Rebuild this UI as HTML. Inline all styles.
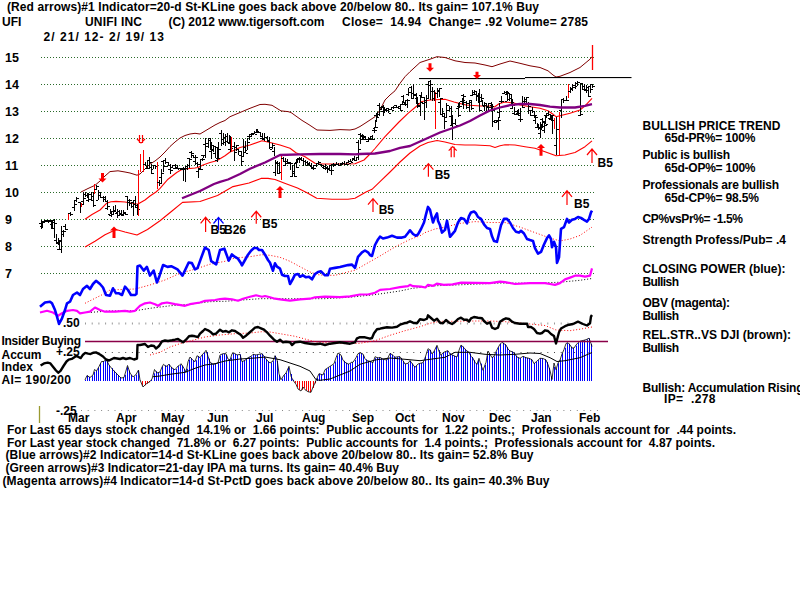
<!DOCTYPE html>
<html><head><meta charset="utf-8"><style>
html,body{margin:0;padding:0;background:#fff;width:800px;height:600px;overflow:hidden}
svg{position:absolute;left:0;top:0;display:block}
text{font-family:"Liberation Sans",sans-serif;font-weight:bold;white-space:pre}
</style></head><body>
<svg width="800" height="600" viewBox="0 0 800 600">
<line x1="41" y1="57.5" x2="594" y2="57.5" stroke="#2a6a2a" stroke-width="1" stroke-dasharray="1 2"/>
<line x1="41" y1="84.5" x2="594" y2="84.5" stroke="#2a6a2a" stroke-width="1" stroke-dasharray="1 2"/>
<line x1="41" y1="111.5" x2="594" y2="111.5" stroke="#2a6a2a" stroke-width="1" stroke-dasharray="1 2"/>
<line x1="41" y1="138.5" x2="594" y2="138.5" stroke="#2a6a2a" stroke-width="1" stroke-dasharray="1 2"/>
<line x1="41" y1="165.5" x2="594" y2="165.5" stroke="#2a6a2a" stroke-width="1" stroke-dasharray="1 2"/>
<line x1="41" y1="192.5" x2="594" y2="192.5" stroke="#2a6a2a" stroke-width="1" stroke-dasharray="1 2"/>
<line x1="41" y1="219.5" x2="594" y2="219.5" stroke="#2a6a2a" stroke-width="1" stroke-dasharray="1 2"/>
<line x1="41" y1="246.5" x2="594" y2="246.5" stroke="#2a6a2a" stroke-width="1" stroke-dasharray="1 2"/>
<line x1="41" y1="273.5" x2="594" y2="273.5" stroke="#2a6a2a" stroke-width="1" stroke-dasharray="1 2"/>
<line x1="85" y1="323.5" x2="594" y2="323.5" stroke="#999" stroke-width="2" stroke-dasharray="1 5.7"/>
<line x1="85" y1="352.5" x2="594" y2="352.5" stroke="#444" stroke-width="1" stroke-dasharray="1 5.7"/>
<line x1="81" y1="410.5" x2="598" y2="410.5" stroke="#888" stroke-width="1" stroke-dasharray="1 5.7"/>
<rect x="85" y="380.0" width="1" height="1.0" fill="#0000ff"/>
<rect x="87" y="375.6" width="1" height="5.4" fill="#0000ff"/>
<rect x="89" y="377.1" width="1" height="3.9" fill="#0000ff"/>
<rect x="92" y="376.1" width="1" height="4.9" fill="#0000ff"/>
<rect x="94" y="371.9" width="1" height="9.1" fill="#0000ff"/>
<rect x="96" y="370.7" width="1" height="10.3" fill="#0000ff"/>
<rect x="98" y="367.8" width="1" height="13.2" fill="#0000ff"/>
<rect x="100" y="363.6" width="1" height="17.4" fill="#0000ff"/>
<rect x="103" y="361.5" width="1" height="19.5" fill="#0000ff"/>
<rect x="105" y="360.4" width="1" height="20.6" fill="#0000ff"/>
<rect x="107" y="361.2" width="1" height="19.8" fill="#0000ff"/>
<rect x="109" y="365.4" width="1" height="15.6" fill="#0000ff"/>
<rect x="112" y="368.1" width="1" height="12.9" fill="#0000ff"/>
<rect x="114" y="370.7" width="1" height="10.3" fill="#0000ff"/>
<rect x="116" y="372.9" width="1" height="8.1" fill="#0000ff"/>
<rect x="118" y="375.1" width="1" height="5.9" fill="#0000ff"/>
<rect x="120" y="377.4" width="1" height="3.6" fill="#0000ff"/>
<rect x="123" y="377.7" width="1" height="3.3" fill="#0000ff"/>
<rect x="125" y="374.8" width="1" height="6.2" fill="#0000ff"/>
<rect x="127" y="367.2" width="1" height="13.8" fill="#0000ff"/>
<rect x="129" y="370.6" width="1" height="10.4" fill="#0000ff"/>
<rect x="131" y="374.9" width="1" height="6.1" fill="#0000ff"/>
<rect x="134" y="376.5" width="1" height="4.5" fill="#0000ff"/>
<rect x="136" y="374.6" width="1" height="6.4" fill="#0000ff"/>
<rect x="138" y="370.8" width="1" height="10.2" fill="#0000ff"/>
<rect x="140" y="380.6" width="1" height="0.4" fill="#0000ff"/>
<rect x="142" y="381.0" width="1" height="4.7" fill="#ff0000"/>
<rect x="145" y="381.0" width="1" height="4.3" fill="#ff0000"/>
<rect x="147" y="381.0" width="1" height="2.5" fill="#ff0000"/>
<rect x="149" y="381.0" width="1" height="1.1" fill="#ff0000"/>
<rect x="151" y="379.9" width="1" height="1.1" fill="#0000ff"/>
<rect x="154" y="373.3" width="1" height="7.7" fill="#0000ff"/>
<rect x="156" y="371.2" width="1" height="9.8" fill="#0000ff"/>
<rect x="158" y="372.7" width="1" height="8.3" fill="#0000ff"/>
<rect x="160" y="371.7" width="1" height="9.3" fill="#0000ff"/>
<rect x="162" y="366.4" width="1" height="14.6" fill="#0000ff"/>
<rect x="165" y="365.3" width="1" height="15.7" fill="#0000ff"/>
<rect x="167" y="366.0" width="1" height="15.0" fill="#0000ff"/>
<rect x="169" y="364.3" width="1" height="16.7" fill="#0000ff"/>
<rect x="171" y="367.0" width="1" height="14.0" fill="#0000ff"/>
<rect x="173" y="368.8" width="1" height="12.2" fill="#0000ff"/>
<rect x="176" y="369.0" width="1" height="12.0" fill="#0000ff"/>
<rect x="178" y="366.2" width="1" height="14.8" fill="#0000ff"/>
<rect x="180" y="364.7" width="1" height="16.3" fill="#0000ff"/>
<rect x="182" y="365.6" width="1" height="15.4" fill="#0000ff"/>
<rect x="184" y="369.2" width="1" height="11.8" fill="#0000ff"/>
<rect x="187" y="368.8" width="1" height="12.2" fill="#0000ff"/>
<rect x="189" y="359.7" width="1" height="21.3" fill="#0000ff"/>
<rect x="191" y="358.2" width="1" height="22.8" fill="#0000ff"/>
<rect x="193" y="360.5" width="1" height="20.5" fill="#0000ff"/>
<rect x="196" y="360.2" width="1" height="20.8" fill="#0000ff"/>
<rect x="198" y="356.2" width="1" height="24.8" fill="#0000ff"/>
<rect x="200" y="357.6" width="1" height="23.4" fill="#0000ff"/>
<rect x="202" y="354.9" width="1" height="26.1" fill="#0000ff"/>
<rect x="204" y="352.4" width="1" height="28.6" fill="#0000ff"/>
<rect x="207" y="352.0" width="1" height="29.0" fill="#0000ff"/>
<rect x="209" y="358.6" width="1" height="22.4" fill="#0000ff"/>
<rect x="211" y="362.9" width="1" height="18.1" fill="#0000ff"/>
<rect x="213" y="364.3" width="1" height="16.7" fill="#0000ff"/>
<rect x="215" y="363.8" width="1" height="17.2" fill="#0000ff"/>
<rect x="218" y="363.1" width="1" height="17.9" fill="#0000ff"/>
<rect x="220" y="355.8" width="1" height="25.2" fill="#0000ff"/>
<rect x="222" y="354.1" width="1" height="26.9" fill="#0000ff"/>
<rect x="224" y="353.7" width="1" height="27.3" fill="#0000ff"/>
<rect x="226" y="354.9" width="1" height="26.1" fill="#0000ff"/>
<rect x="229" y="359.4" width="1" height="21.6" fill="#0000ff"/>
<rect x="231" y="357.5" width="1" height="23.5" fill="#0000ff"/>
<rect x="233" y="353.3" width="1" height="27.7" fill="#0000ff"/>
<rect x="235" y="353.9" width="1" height="27.1" fill="#0000ff"/>
<rect x="237" y="354.9" width="1" height="26.1" fill="#0000ff"/>
<rect x="240" y="354.4" width="1" height="26.6" fill="#0000ff"/>
<rect x="242" y="361.4" width="1" height="19.6" fill="#0000ff"/>
<rect x="244" y="360.7" width="1" height="20.3" fill="#0000ff"/>
<rect x="246" y="359.1" width="1" height="21.9" fill="#0000ff"/>
<rect x="249" y="357.4" width="1" height="23.6" fill="#0000ff"/>
<rect x="251" y="356.4" width="1" height="24.6" fill="#0000ff"/>
<rect x="253" y="354.3" width="1" height="26.7" fill="#0000ff"/>
<rect x="255" y="354.8" width="1" height="26.2" fill="#0000ff"/>
<rect x="257" y="354.7" width="1" height="26.3" fill="#0000ff"/>
<rect x="260" y="354.2" width="1" height="26.8" fill="#0000ff"/>
<rect x="262" y="353.7" width="1" height="27.3" fill="#0000ff"/>
<rect x="264" y="356.3" width="1" height="24.7" fill="#0000ff"/>
<rect x="266" y="359.3" width="1" height="21.7" fill="#0000ff"/>
<rect x="268" y="361.6" width="1" height="19.4" fill="#0000ff"/>
<rect x="271" y="362.6" width="1" height="18.4" fill="#0000ff"/>
<rect x="273" y="361.1" width="1" height="19.9" fill="#0000ff"/>
<rect x="275" y="355.8" width="1" height="25.2" fill="#0000ff"/>
<rect x="277" y="361.0" width="1" height="20.0" fill="#0000ff"/>
<rect x="279" y="375.1" width="1" height="5.9" fill="#0000ff"/>
<rect x="282" y="378.6" width="1" height="2.4" fill="#0000ff"/>
<rect x="284" y="375.2" width="1" height="5.8" fill="#0000ff"/>
<rect x="286" y="372.8" width="1" height="8.2" fill="#0000ff"/>
<rect x="288" y="367.8" width="1" height="13.2" fill="#0000ff"/>
<rect x="291" y="374.0" width="1" height="7.0" fill="#0000ff"/>
<rect x="293" y="379.8" width="1" height="1.2" fill="#0000ff"/>
<rect x="295" y="381.0" width="1" height="1.9" fill="#ff0000"/>
<rect x="297" y="381.0" width="1" height="6.0" fill="#ff0000"/>
<rect x="299" y="381.0" width="1" height="8.9" fill="#ff0000"/>
<rect x="302" y="381.0" width="1" height="8.8" fill="#ff0000"/>
<rect x="304" y="381.0" width="1" height="7.1" fill="#ff0000"/>
<rect x="306" y="381.0" width="1" height="9.4" fill="#ff0000"/>
<rect x="308" y="381.0" width="1" height="10.7" fill="#ff0000"/>
<rect x="310" y="381.0" width="1" height="11.2" fill="#ff0000"/>
<rect x="313" y="381.0" width="1" height="7.0" fill="#ff0000"/>
<rect x="315" y="381.0" width="1" height="2.3" fill="#ff0000"/>
<rect x="317" y="378.0" width="1" height="3.0" fill="#0000ff"/>
<rect x="319" y="373.8" width="1" height="7.2" fill="#0000ff"/>
<rect x="321" y="374.5" width="1" height="6.5" fill="#0000ff"/>
<rect x="324" y="373.2" width="1" height="7.8" fill="#0000ff"/>
<rect x="326" y="369.1" width="1" height="11.9" fill="#0000ff"/>
<rect x="328" y="367.6" width="1" height="13.4" fill="#0000ff"/>
<rect x="330" y="366.2" width="1" height="14.8" fill="#0000ff"/>
<rect x="333" y="364.7" width="1" height="16.3" fill="#0000ff"/>
<rect x="335" y="361.5" width="1" height="19.5" fill="#0000ff"/>
<rect x="337" y="355.5" width="1" height="25.5" fill="#0000ff"/>
<rect x="339" y="353.8" width="1" height="27.2" fill="#0000ff"/>
<rect x="341" y="356.0" width="1" height="25.0" fill="#0000ff"/>
<rect x="344" y="360.8" width="1" height="20.2" fill="#0000ff"/>
<rect x="346" y="362.8" width="1" height="18.2" fill="#0000ff"/>
<rect x="348" y="363.9" width="1" height="17.1" fill="#0000ff"/>
<rect x="350" y="363.1" width="1" height="17.9" fill="#0000ff"/>
<rect x="352" y="362.3" width="1" height="18.7" fill="#0000ff"/>
<rect x="355" y="359.8" width="1" height="21.2" fill="#0000ff"/>
<rect x="357" y="356.0" width="1" height="25.0" fill="#0000ff"/>
<rect x="359" y="353.2" width="1" height="27.8" fill="#0000ff"/>
<rect x="361" y="353.2" width="1" height="27.8" fill="#0000ff"/>
<rect x="363" y="355.1" width="1" height="25.9" fill="#0000ff"/>
<rect x="366" y="359.4" width="1" height="21.6" fill="#0000ff"/>
<rect x="368" y="360.9" width="1" height="20.1" fill="#0000ff"/>
<rect x="370" y="361.3" width="1" height="19.7" fill="#0000ff"/>
<rect x="372" y="362.4" width="1" height="18.6" fill="#0000ff"/>
<rect x="375" y="358.2" width="1" height="22.8" fill="#0000ff"/>
<rect x="377" y="357.4" width="1" height="23.6" fill="#0000ff"/>
<rect x="379" y="357.7" width="1" height="23.3" fill="#0000ff"/>
<rect x="381" y="358.1" width="1" height="22.9" fill="#0000ff"/>
<rect x="383" y="359.4" width="1" height="21.6" fill="#0000ff"/>
<rect x="386" y="359.7" width="1" height="21.3" fill="#0000ff"/>
<rect x="388" y="358.3" width="1" height="22.7" fill="#0000ff"/>
<rect x="390" y="353.3" width="1" height="27.7" fill="#0000ff"/>
<rect x="392" y="354.8" width="1" height="26.2" fill="#0000ff"/>
<rect x="394" y="356.7" width="1" height="24.3" fill="#0000ff"/>
<rect x="397" y="357.0" width="1" height="24.0" fill="#0000ff"/>
<rect x="399" y="356.7" width="1" height="24.3" fill="#0000ff"/>
<rect x="401" y="358.1" width="1" height="22.9" fill="#0000ff"/>
<rect x="403" y="361.1" width="1" height="19.9" fill="#0000ff"/>
<rect x="405" y="363.9" width="1" height="17.1" fill="#0000ff"/>
<rect x="408" y="363.4" width="1" height="17.6" fill="#0000ff"/>
<rect x="410" y="360.9" width="1" height="20.1" fill="#0000ff"/>
<rect x="412" y="363.5" width="1" height="17.5" fill="#0000ff"/>
<rect x="414" y="366.4" width="1" height="14.6" fill="#0000ff"/>
<rect x="416" y="365.7" width="1" height="15.3" fill="#0000ff"/>
<rect x="419" y="363.8" width="1" height="17.2" fill="#0000ff"/>
<rect x="421" y="363.1" width="1" height="17.9" fill="#0000ff"/>
<rect x="423" y="362.4" width="1" height="18.6" fill="#0000ff"/>
<rect x="425" y="356.9" width="1" height="24.1" fill="#0000ff"/>
<rect x="428" y="350.1" width="1" height="30.9" fill="#0000ff"/>
<rect x="430" y="349.8" width="1" height="31.2" fill="#0000ff"/>
<rect x="432" y="353.9" width="1" height="27.1" fill="#0000ff"/>
<rect x="434" y="350.9" width="1" height="30.1" fill="#0000ff"/>
<rect x="436" y="346.5" width="1" height="34.5" fill="#0000ff"/>
<rect x="439" y="350.1" width="1" height="30.9" fill="#0000ff"/>
<rect x="441" y="354.9" width="1" height="26.1" fill="#0000ff"/>
<rect x="443" y="352.7" width="1" height="28.3" fill="#0000ff"/>
<rect x="445" y="351.7" width="1" height="29.3" fill="#0000ff"/>
<rect x="447" y="350.9" width="1" height="30.1" fill="#0000ff"/>
<rect x="450" y="353.4" width="1" height="27.6" fill="#0000ff"/>
<rect x="452" y="354.8" width="1" height="26.2" fill="#0000ff"/>
<rect x="454" y="355.8" width="1" height="25.2" fill="#0000ff"/>
<rect x="456" y="356.7" width="1" height="24.3" fill="#0000ff"/>
<rect x="458" y="352.0" width="1" height="29.0" fill="#0000ff"/>
<rect x="461" y="345.8" width="1" height="35.2" fill="#0000ff"/>
<rect x="463" y="346.7" width="1" height="34.3" fill="#0000ff"/>
<rect x="465" y="349.2" width="1" height="31.8" fill="#0000ff"/>
<rect x="467" y="351.2" width="1" height="29.8" fill="#0000ff"/>
<rect x="470" y="353.4" width="1" height="27.6" fill="#0000ff"/>
<rect x="472" y="357.0" width="1" height="24.0" fill="#0000ff"/>
<rect x="474" y="360.2" width="1" height="20.8" fill="#0000ff"/>
<rect x="476" y="363.5" width="1" height="17.5" fill="#0000ff"/>
<rect x="478" y="360.2" width="1" height="20.8" fill="#0000ff"/>
<rect x="481" y="363.6" width="1" height="17.4" fill="#0000ff"/>
<rect x="483" y="369.8" width="1" height="11.2" fill="#0000ff"/>
<rect x="485" y="364.9" width="1" height="16.1" fill="#0000ff"/>
<rect x="487" y="355.4" width="1" height="25.6" fill="#0000ff"/>
<rect x="489" y="353.4" width="1" height="27.6" fill="#0000ff"/>
<rect x="492" y="357.1" width="1" height="23.9" fill="#0000ff"/>
<rect x="494" y="356.4" width="1" height="24.6" fill="#0000ff"/>
<rect x="496" y="351.6" width="1" height="29.4" fill="#0000ff"/>
<rect x="498" y="347.2" width="1" height="33.8" fill="#0000ff"/>
<rect x="500" y="343.8" width="1" height="37.2" fill="#0000ff"/>
<rect x="503" y="342.8" width="1" height="38.2" fill="#0000ff"/>
<rect x="505" y="344.3" width="1" height="36.7" fill="#0000ff"/>
<rect x="507" y="347.2" width="1" height="33.8" fill="#0000ff"/>
<rect x="509" y="350.3" width="1" height="30.7" fill="#0000ff"/>
<rect x="512" y="351.5" width="1" height="29.5" fill="#0000ff"/>
<rect x="514" y="352.8" width="1" height="28.2" fill="#0000ff"/>
<rect x="516" y="355.6" width="1" height="25.4" fill="#0000ff"/>
<rect x="518" y="357.5" width="1" height="23.5" fill="#0000ff"/>
<rect x="520" y="358.1" width="1" height="22.9" fill="#0000ff"/>
<rect x="523" y="356.6" width="1" height="24.4" fill="#0000ff"/>
<rect x="525" y="357.1" width="1" height="23.9" fill="#0000ff"/>
<rect x="527" y="357.9" width="1" height="23.1" fill="#0000ff"/>
<rect x="529" y="358.4" width="1" height="22.6" fill="#0000ff"/>
<rect x="531" y="359.4" width="1" height="21.6" fill="#0000ff"/>
<rect x="534" y="363.0" width="1" height="18.0" fill="#0000ff"/>
<rect x="536" y="362.0" width="1" height="19.0" fill="#0000ff"/>
<rect x="538" y="360.1" width="1" height="20.9" fill="#0000ff"/>
<rect x="540" y="358.3" width="1" height="22.7" fill="#0000ff"/>
<rect x="542" y="358.5" width="1" height="22.5" fill="#0000ff"/>
<rect x="545" y="359.3" width="1" height="21.7" fill="#0000ff"/>
<rect x="547" y="362.0" width="1" height="19.0" fill="#0000ff"/>
<rect x="549" y="367.8" width="1" height="13.2" fill="#0000ff"/>
<rect x="551" y="376.4" width="1" height="4.6" fill="#0000ff"/>
<rect x="554" y="367.0" width="1" height="14.0" fill="#0000ff"/>
<rect x="556" y="368.8" width="1" height="12.2" fill="#0000ff"/>
<rect x="558" y="363.2" width="1" height="17.8" fill="#0000ff"/>
<rect x="560" y="359.6" width="1" height="21.4" fill="#0000ff"/>
<rect x="562" y="353.2" width="1" height="27.8" fill="#0000ff"/>
<rect x="565" y="347.8" width="1" height="33.2" fill="#0000ff"/>
<rect x="567" y="343.2" width="1" height="37.8" fill="#0000ff"/>
<rect x="569" y="343.8" width="1" height="37.2" fill="#0000ff"/>
<rect x="571" y="346.8" width="1" height="34.2" fill="#0000ff"/>
<rect x="573" y="348.0" width="1" height="33.0" fill="#0000ff"/>
<rect x="576" y="345.6" width="1" height="35.4" fill="#0000ff"/>
<rect x="578" y="342.9" width="1" height="38.1" fill="#0000ff"/>
<rect x="580" y="341.2" width="1" height="39.8" fill="#0000ff"/>
<rect x="582" y="340.7" width="1" height="40.3" fill="#0000ff"/>
<rect x="584" y="340.1" width="1" height="40.9" fill="#0000ff"/>
<rect x="587" y="339.4" width="1" height="41.6" fill="#0000ff"/>
<rect x="589" y="338.3" width="1" height="42.7" fill="#0000ff"/>
<rect x="591" y="343.8" width="1" height="37.2" fill="#0000ff"/>
<polyline points="85.0,380.0 87.0,375.5 90.0,377.5 93.0,375.0 94.5,369.5 96.5,371.0 99.0,366.5 101.5,361.5 104.0,361.5 106.0,359.0 109.0,365.0 113.0,370.0 117.0,374.0 121.0,378.0 124.0,377.5 127.5,365.5 130.0,373.0 133.0,377.0 136.0,374.5 138.5,370.0 140.0,380.0 143.0,387.0 146.0,384.0 150.0,381.5 152.0,379.0 154.5,369.5 157.0,373.0 160.0,372.0 162.0,367.0 163.5,364.3 166.0,366.6 169.0,364.3 172.0,368.0 175.0,369.8 178.0,366.0 179.0,365.7 181.0,363.7 184.0,368.3 186.0,372.3 188.0,361.7 190.0,357.0 193.0,360.3 195.0,361.7 197.0,355.7 200.0,357.7 202.0,355.0 205.0,351.7 206.0,350.3 208.0,356.3 210.0,362.3 213.0,364.3 216.0,363.7 218.0,363.0 220.0,355.0 223.0,353.7 226.0,353.7 228.0,359.0 230.0,360.3 232.0,353.7 234.0,353.0 237.0,355.0 240.0,354.3 242.0,361.7 245.0,360.3 248.0,357.7 251.0,356.3 253.0,354.3 256.0,355.0 259.0,354.3 262.0,353.7 264.0,356.3 267.0,360.3 270.0,363.0 273.0,361.0 275.0,355.7 277.0,359.0 279.0,373.7 281.0,379.7 284.0,375.0 286.0,373.0 289.0,366.3 291.0,376.3 293.0,380.3 296.0,384.3 298.0,389.0 301.0,391.0 303.0,387.0 305.0,389.7 308.0,391.7 311.0,392.3 313.0,387.0 315.0,383.0 316.0,380.3 319.0,373.7 321.0,374.3 323.0,375.0 325.0,369.7 328.0,367.7 331.0,365.7 334.0,363.7 336.0,357.7 338.0,353.0 341.0,355.0 343.0,360.3 346.0,363.0 349.0,364.3 351.0,362.3 353.0,362.3 356.0,357.7 358.0,353.7 360.0,352.7 363.0,354.0 365.0,358.7 367.0,360.7 370.0,361.3 373.0,362.7 375.0,356.7 378.0,358.0 380.0,357.3 383.0,359.3 387.0,360.0 390.0,353.3 393.0,355.3 395.0,357.3 398.0,356.7 400.0,356.7 403.0,360.7 405.0,364.0 408.0,363.3 410.0,360.7 413.0,364.7 415.0,367.3 418.0,364.0 420.0,363.3 423.0,362.7 425.0,358.0 428.0,348.7 430.0,350.0 432.0,354.0 434.0,351.3 437.0,345.3 439.0,351.3 441.0,355.3 443.0,352.7 446.0,351.3 448.0,350.7 450.0,354.0 453.0,355.3 455.0,356.3 457.0,357.0 459.0,350.3 461.0,345.0 464.0,347.7 466.0,350.3 469.0,352.3 471.0,356.3 473.0,358.3 475.0,362.3 477.0,364.3 479.0,358.3 481.0,365.0 483.0,370.3 486.0,362.3 488.0,351.0 490.0,354.3 492.0,357.7 494.0,356.3 496.0,351.7 498.0,347.7 500.0,344.3 502.0,342.3 504.0,343.7 506.0,345.0 508.0,349.0 510.0,351.0 512.0,351.7 514.0,353.0 517.0,357.0 520.0,358.3 523.0,356.3 526.0,357.7 529.0,358.3 532.0,359.7 534.0,363.7 537.0,361.0 540.0,358.3 543.0,358.5 546.0,360.0 548.0,364.5 550.0,370.5 552.0,379.5 554.0,363.0 556.0,369.7 558.0,363.0 560.0,360.0 562.0,354.0 564.0,349.5 566.0,343.5 568.0,342.7 570.0,345.0 572.0,348.0 574.0,348.0 576.0,345.0 578.0,342.7 580.0,341.2 583.0,340.5 586.0,339.7 589.0,338.2 591.0,343.5 592.0,346.5" fill="none" stroke="#000" stroke-width="0.8" stroke-linejoin="round"/>
<polyline points="153.0,376.7 160.0,376.0 170.0,374.3 185.0,372.3 195.0,368.3 205.0,365.0 215.0,363.7 225.0,361.0 240.0,359.0 255.0,358.0 265.0,357.0 280.0,359.7 290.0,363.0 300.0,366.3 310.0,371.0 316.0,379.7 320.0,380.3 330.0,379.0 340.0,375.0 350.0,371.0 360.0,364.3 375.0,360.0 390.0,358.0 405.0,359.3 420.0,360.7 430.0,359.3 445.0,357.3 455.0,352.3 470.0,352.3 485.0,354.3 500.0,355.0 515.0,354.3 530.0,353.0 540.0,353.5 550.0,357.7 557.0,361.5 565.0,360.7 580.0,357.7 592.0,352.5" fill="none" stroke="#000" stroke-width="1" stroke-linejoin="round"/>
<line x1="85" y1="341.5" x2="608" y2="341.5" stroke="#8a0048" stroke-width="1.6"/>
<polyline points="81.0,192.0 88.0,188.5 95.0,185.3 100.0,181.0 105.0,176.0 110.0,171.6 118.0,170.8 125.0,172.0 130.0,173.0 137.0,175.2 140.0,174.0 145.0,169.0 150.0,164.0 155.0,161.0 160.0,157.0 165.0,152.0 170.0,146.5 175.0,142.0 180.0,138.0 185.0,135.5 190.0,134.0 195.0,133.3 200.0,134.0 205.0,131.0 210.0,128.0 215.0,125.0 220.0,122.5 225.0,120.5 230.0,116.7 240.0,112.5 250.0,108.3 260.0,104.5 265.0,104.3 272.0,105.3 281.0,110.9 288.0,111.6 291.0,112.5 302.0,120.4 309.0,124.7 317.0,130.0 330.0,130.4 340.0,129.6 350.0,130.0 355.0,129.0 360.0,126.5 365.0,123.3 370.0,120.0 375.0,116.7 380.0,110.0 385.0,100.0 390.0,95.0 395.0,90.8 400.0,83.3 405.0,76.7 410.0,71.7 420.0,62.5 430.0,59.2 437.0,56.7 445.0,57.5 455.0,60.8 465.0,62.5 475.0,63.0 485.0,65.0 492.0,66.7 500.0,64.0 510.0,61.0 520.0,63.3 530.0,65.8 540.0,67.5 548.0,70.8 553.0,75.0 556.0,77.0 560.0,76.3 570.0,72.5 580.0,67.5 590.0,59.2 592.0,56.7" fill="none" stroke="#800000" stroke-width="1" stroke-linejoin="round"/>
<polyline points="85.0,219.3 92.0,214.5 100.0,210.0 106.5,203.3 111.0,201.7 116.0,201.4 125.0,202.0 135.0,203.7 138.0,204.0 145.0,200.0 150.0,196.0 156.0,192.0 160.0,188.3 168.0,179.2 176.7,172.5 181.7,169.6 187.5,168.7 195.0,168.0 198.0,167.5 203.0,165.0 210.0,162.5 216.7,160.8 225.0,155.8 230.0,152.0 235.0,150.0 240.0,147.5 250.0,145.0 262.0,140.8 270.0,142.5 280.0,145.0 290.0,148.2 296.0,152.7 300.0,154.5 305.0,156.7 310.0,160.0 315.0,163.3 320.0,164.0 330.0,164.0 345.0,164.0 355.0,163.7 364.0,160.0 370.0,154.0 375.0,148.5 385.0,136.7 399.0,122.0 408.0,113.3 415.0,107.5 422.0,101.5 430.0,100.0 445.0,99.2 454.0,102.0 466.0,105.0 481.0,106.0 490.0,106.0 494.5,107.0 499.0,103.7 505.0,102.0 514.0,103.0 520.0,105.0 530.0,106.7 540.0,108.3 548.0,110.8 553.0,114.2 556.0,116.7 560.0,115.8 570.0,113.3 580.0,110.0 585.0,105.8 592.0,98.3" fill="none" stroke="#ff0000" stroke-width="1.1" stroke-linejoin="round"/>
<polyline points="85.0,247.0 95.0,241.3 105.0,234.7 113.0,231.0 116.0,229.5 125.0,232.0 137.0,235.0 147.5,229.5 160.0,220.8 172.0,211.0 182.5,202.4 200.0,201.5 217.5,195.4 233.0,186.6 249.0,183.0 261.0,178.4 268.0,178.4 275.0,179.5 284.0,183.0 297.5,188.0 307.0,192.7 316.7,198.2 332.0,199.3 348.0,199.2 355.0,198.2 366.0,192.0 372.0,189.3 380.0,181.7 390.0,172.0 400.0,162.0 410.0,153.0 420.0,146.0 428.0,142.5 437.0,140.5 445.0,142.0 455.0,144.5 465.0,145.0 475.0,145.0 490.0,145.8 495.0,147.5 500.0,145.8 505.0,144.7 515.0,145.0 525.0,146.7 535.0,148.3 545.0,151.7 556.0,155.8 565.0,155.0 575.0,152.5 585.0,146.7 592.0,140.8" fill="none" stroke="#ff0000" stroke-width="1.1" stroke-linejoin="round"/>
<rect x="41" y="220" width="1" height="9" fill="#000"/>
<rect x="39" y="223" width="2" height="1" fill="#000"/>
<rect x="42" y="221" width="2" height="1" fill="#000"/>
<rect x="42" y="222" width="1" height="6" fill="#000"/>
<rect x="40" y="226" width="2" height="1" fill="#000"/>
<rect x="43" y="222" width="2" height="1" fill="#000"/>
<rect x="44" y="220" width="1" height="3" fill="#000"/>
<rect x="42" y="221" width="2" height="1" fill="#000"/>
<rect x="45" y="221" width="2" height="1" fill="#000"/>
<rect x="46" y="220" width="1" height="2" fill="#000"/>
<rect x="44" y="220" width="2" height="1" fill="#000"/>
<rect x="47" y="221" width="2" height="1" fill="#000"/>
<rect x="48" y="220" width="1" height="3" fill="#000"/>
<rect x="46" y="220" width="2" height="1" fill="#000"/>
<rect x="49" y="221" width="2" height="1" fill="#000"/>
<rect x="51" y="220" width="1" height="9" fill="#000"/>
<rect x="49" y="220" width="2" height="1" fill="#000"/>
<rect x="52" y="220" width="2" height="1" fill="#000"/>
<rect x="52" y="221" width="1" height="8" fill="#000"/>
<rect x="50" y="224" width="2" height="1" fill="#000"/>
<rect x="53" y="228" width="2" height="1" fill="#000"/>
<rect x="54" y="219" width="1" height="19" fill="#000"/>
<rect x="52" y="222" width="2" height="1" fill="#000"/>
<rect x="55" y="223" width="2" height="1" fill="#000"/>
<rect x="56" y="234" width="1" height="10" fill="#000"/>
<rect x="54" y="240" width="2" height="1" fill="#000"/>
<rect x="57" y="243" width="2" height="1" fill="#000"/>
<rect x="58" y="238" width="1" height="7" fill="#000"/>
<rect x="56" y="242" width="2" height="1" fill="#000"/>
<rect x="59" y="241" width="2" height="1" fill="#000"/>
<rect x="59" y="240" width="1" height="10" fill="#000"/>
<rect x="57" y="249" width="2" height="1" fill="#000"/>
<rect x="60" y="240" width="2" height="1" fill="#000"/>
<rect x="61" y="226" width="1" height="27" fill="#000"/>
<rect x="59" y="249" width="2" height="1" fill="#000"/>
<rect x="62" y="234" width="2" height="1" fill="#000"/>
<rect x="63" y="230" width="1" height="7" fill="#000"/>
<rect x="61" y="231" width="2" height="1" fill="#000"/>
<rect x="64" y="231" width="2" height="1" fill="#000"/>
<rect x="65" y="224" width="1" height="6" fill="#000"/>
<rect x="63" y="226" width="2" height="1" fill="#000"/>
<rect x="66" y="229" width="2" height="1" fill="#000"/>
<rect x="68" y="214" width="1" height="6" fill="#ff0000"/>
<rect x="70" y="212" width="1" height="4" fill="#000"/>
<rect x="68" y="213" width="2" height="1" fill="#000"/>
<rect x="71" y="214" width="2" height="1" fill="#000"/>
<rect x="74" y="201" width="1" height="10" fill="#000"/>
<rect x="72" y="207" width="2" height="1" fill="#000"/>
<rect x="75" y="204" width="2" height="1" fill="#000"/>
<rect x="76" y="197" width="1" height="5" fill="#000"/>
<rect x="74" y="200" width="2" height="1" fill="#000"/>
<rect x="77" y="198" width="2" height="1" fill="#000"/>
<rect x="80" y="202" width="1" height="11" fill="#000"/>
<rect x="78" y="202" width="2" height="1" fill="#000"/>
<rect x="81" y="204" width="2" height="1" fill="#000"/>
<rect x="81" y="203" width="1" height="4" fill="#ff0000"/>
<rect x="83" y="192" width="1" height="13" fill="#000"/>
<rect x="81" y="201" width="2" height="1" fill="#000"/>
<rect x="84" y="198" width="2" height="1" fill="#000"/>
<rect x="85" y="192" width="1" height="5" fill="#000"/>
<rect x="83" y="194" width="2" height="1" fill="#000"/>
<rect x="86" y="195" width="2" height="1" fill="#000"/>
<rect x="87" y="193" width="1" height="5" fill="#000"/>
<rect x="85" y="195" width="2" height="1" fill="#000"/>
<rect x="88" y="194" width="2" height="1" fill="#000"/>
<rect x="88" y="193" width="1" height="9" fill="#000"/>
<rect x="86" y="200" width="2" height="1" fill="#000"/>
<rect x="89" y="199" width="2" height="1" fill="#000"/>
<rect x="91" y="192" width="1" height="8" fill="#000"/>
<rect x="89" y="194" width="2" height="1" fill="#000"/>
<rect x="92" y="196" width="2" height="1" fill="#000"/>
<rect x="93" y="192" width="1" height="15" fill="#000"/>
<rect x="91" y="200" width="2" height="1" fill="#000"/>
<rect x="94" y="205" width="2" height="1" fill="#000"/>
<rect x="94" y="184" width="1" height="10" fill="#ff0000"/>
<rect x="96" y="185" width="1" height="5" fill="#000"/>
<rect x="94" y="189" width="2" height="1" fill="#000"/>
<rect x="97" y="186" width="2" height="1" fill="#000"/>
<rect x="98" y="190" width="1" height="10" fill="#000"/>
<rect x="96" y="200" width="2" height="1" fill="#000"/>
<rect x="99" y="192" width="2" height="1" fill="#000"/>
<rect x="100" y="193" width="1" height="5" fill="#000"/>
<rect x="98" y="195" width="2" height="1" fill="#000"/>
<rect x="101" y="197" width="2" height="1" fill="#000"/>
<rect x="103" y="196" width="1" height="6" fill="#000"/>
<rect x="101" y="197" width="2" height="1" fill="#000"/>
<rect x="104" y="199" width="2" height="1" fill="#000"/>
<rect x="105" y="196" width="1" height="6" fill="#000"/>
<rect x="103" y="197" width="2" height="1" fill="#000"/>
<rect x="106" y="201" width="2" height="1" fill="#000"/>
<rect x="107" y="200" width="1" height="10" fill="#000"/>
<rect x="105" y="208" width="2" height="1" fill="#000"/>
<rect x="108" y="206" width="2" height="1" fill="#000"/>
<rect x="110" y="209" width="1" height="5" fill="#000"/>
<rect x="108" y="214" width="2" height="1" fill="#000"/>
<rect x="111" y="211" width="2" height="1" fill="#000"/>
<rect x="111" y="211" width="1" height="6" fill="#000"/>
<rect x="109" y="215" width="2" height="1" fill="#000"/>
<rect x="112" y="214" width="2" height="1" fill="#000"/>
<rect x="113" y="206" width="1" height="9" fill="#000"/>
<rect x="111" y="211" width="2" height="1" fill="#000"/>
<rect x="114" y="210" width="2" height="1" fill="#000"/>
<rect x="115" y="205" width="1" height="7" fill="#000"/>
<rect x="113" y="211" width="2" height="1" fill="#000"/>
<rect x="116" y="212" width="2" height="1" fill="#000"/>
<rect x="117" y="209" width="1" height="9" fill="#000"/>
<rect x="115" y="213" width="2" height="1" fill="#000"/>
<rect x="118" y="215" width="2" height="1" fill="#000"/>
<rect x="119" y="210" width="1" height="5" fill="#000"/>
<rect x="117" y="211" width="2" height="1" fill="#000"/>
<rect x="120" y="214" width="2" height="1" fill="#000"/>
<rect x="121" y="210" width="1" height="4" fill="#000"/>
<rect x="119" y="213" width="2" height="1" fill="#000"/>
<rect x="122" y="214" width="2" height="1" fill="#000"/>
<rect x="123" y="210" width="1" height="6" fill="#000"/>
<rect x="121" y="215" width="2" height="1" fill="#000"/>
<rect x="124" y="212" width="2" height="1" fill="#000"/>
<rect x="125" y="212" width="1" height="3" fill="#000"/>
<rect x="123" y="213" width="2" height="1" fill="#000"/>
<rect x="126" y="214" width="2" height="1" fill="#000"/>
<rect x="127" y="196" width="1" height="14" fill="#000"/>
<rect x="125" y="196" width="2" height="1" fill="#000"/>
<rect x="128" y="202" width="2" height="1" fill="#000"/>
<rect x="129" y="199" width="1" height="7" fill="#000"/>
<rect x="127" y="200" width="2" height="1" fill="#000"/>
<rect x="130" y="200" width="2" height="1" fill="#000"/>
<rect x="131" y="203" width="1" height="5" fill="#000"/>
<rect x="129" y="203" width="2" height="1" fill="#000"/>
<rect x="132" y="206" width="2" height="1" fill="#000"/>
<rect x="133" y="200" width="1" height="16" fill="#000"/>
<rect x="131" y="202" width="2" height="1" fill="#000"/>
<rect x="134" y="204" width="2" height="1" fill="#000"/>
<rect x="135" y="196" width="1" height="12" fill="#000"/>
<rect x="133" y="200" width="2" height="1" fill="#000"/>
<rect x="136" y="207" width="2" height="1" fill="#000"/>
<rect x="137" y="204" width="1" height="11" fill="#000"/>
<rect x="135" y="205" width="2" height="1" fill="#000"/>
<rect x="138" y="209" width="2" height="1" fill="#000"/>
<rect x="138" y="170" width="1" height="46" fill="#ff0000"/>
<rect x="140" y="154" width="1" height="18" fill="#ff0000"/>
<rect x="143" y="150" width="1" height="22" fill="#ff0000"/>
<rect x="145" y="162" width="1" height="4" fill="#000"/>
<rect x="143" y="164" width="2" height="1" fill="#000"/>
<rect x="146" y="166" width="2" height="1" fill="#000"/>
<rect x="147" y="161" width="1" height="8" fill="#000"/>
<rect x="145" y="168" width="2" height="1" fill="#000"/>
<rect x="148" y="168" width="2" height="1" fill="#000"/>
<rect x="149" y="157" width="1" height="11" fill="#000"/>
<rect x="147" y="160" width="2" height="1" fill="#000"/>
<rect x="150" y="162" width="2" height="1" fill="#000"/>
<rect x="151" y="164" width="1" height="10" fill="#000"/>
<rect x="149" y="167" width="2" height="1" fill="#000"/>
<rect x="152" y="173" width="2" height="1" fill="#000"/>
<rect x="153" y="165" width="1" height="4" fill="#000"/>
<rect x="151" y="169" width="2" height="1" fill="#000"/>
<rect x="154" y="165" width="2" height="1" fill="#000"/>
<rect x="155" y="165" width="1" height="4" fill="#000"/>
<rect x="153" y="165" width="2" height="1" fill="#000"/>
<rect x="156" y="166" width="2" height="1" fill="#000"/>
<rect x="157" y="162" width="1" height="27" fill="#ff0000"/>
<rect x="159" y="180" width="1" height="6" fill="#000"/>
<rect x="157" y="182" width="2" height="1" fill="#000"/>
<rect x="160" y="183" width="2" height="1" fill="#000"/>
<rect x="161" y="169" width="1" height="14" fill="#000"/>
<rect x="159" y="177" width="2" height="1" fill="#000"/>
<rect x="162" y="173" width="2" height="1" fill="#000"/>
<rect x="163" y="161" width="1" height="11" fill="#000"/>
<rect x="161" y="161" width="2" height="1" fill="#000"/>
<rect x="164" y="166" width="2" height="1" fill="#000"/>
<rect x="165" y="158" width="1" height="6" fill="#000"/>
<rect x="163" y="160" width="2" height="1" fill="#000"/>
<rect x="166" y="162" width="2" height="1" fill="#000"/>
<rect x="168" y="162" width="1" height="4" fill="#000"/>
<rect x="166" y="166" width="2" height="1" fill="#000"/>
<rect x="169" y="165" width="2" height="1" fill="#000"/>
<rect x="170" y="164" width="1" height="10" fill="#000"/>
<rect x="168" y="169" width="2" height="1" fill="#000"/>
<rect x="171" y="170" width="2" height="1" fill="#000"/>
<rect x="172" y="165" width="1" height="3" fill="#000"/>
<rect x="170" y="167" width="2" height="1" fill="#000"/>
<rect x="173" y="165" width="2" height="1" fill="#000"/>
<rect x="175" y="164" width="1" height="4" fill="#000"/>
<rect x="173" y="168" width="2" height="1" fill="#000"/>
<rect x="176" y="167" width="2" height="1" fill="#000"/>
<rect x="177" y="165" width="1" height="4" fill="#000"/>
<rect x="175" y="168" width="2" height="1" fill="#000"/>
<rect x="178" y="168" width="2" height="1" fill="#000"/>
<rect x="178" y="168" width="1" height="2" fill="#000"/>
<rect x="176" y="168" width="2" height="1" fill="#000"/>
<rect x="179" y="168" width="2" height="1" fill="#000"/>
<rect x="180" y="168" width="1" height="2" fill="#000"/>
<rect x="178" y="168" width="2" height="1" fill="#000"/>
<rect x="181" y="169" width="2" height="1" fill="#000"/>
<rect x="183" y="167" width="1" height="14" fill="#000"/>
<rect x="181" y="168" width="2" height="1" fill="#000"/>
<rect x="184" y="168" width="2" height="1" fill="#000"/>
<rect x="185" y="166" width="1" height="16" fill="#000"/>
<rect x="183" y="169" width="2" height="1" fill="#000"/>
<rect x="186" y="168" width="2" height="1" fill="#000"/>
<rect x="187" y="164" width="1" height="6" fill="#000"/>
<rect x="185" y="166" width="2" height="1" fill="#000"/>
<rect x="188" y="165" width="2" height="1" fill="#000"/>
<rect x="189" y="158" width="1" height="10" fill="#000"/>
<rect x="187" y="158" width="2" height="1" fill="#000"/>
<rect x="190" y="159" width="2" height="1" fill="#000"/>
<rect x="191" y="151" width="1" height="7" fill="#000"/>
<rect x="189" y="152" width="2" height="1" fill="#000"/>
<rect x="192" y="153" width="2" height="1" fill="#000"/>
<rect x="193" y="155" width="1" height="3" fill="#000"/>
<rect x="191" y="155" width="2" height="1" fill="#000"/>
<rect x="194" y="157" width="2" height="1" fill="#000"/>
<rect x="195" y="155" width="1" height="10" fill="#000"/>
<rect x="193" y="161" width="2" height="1" fill="#000"/>
<rect x="196" y="157" width="2" height="1" fill="#000"/>
<rect x="197" y="162" width="1" height="5" fill="#000"/>
<rect x="195" y="163" width="2" height="1" fill="#000"/>
<rect x="198" y="164" width="2" height="1" fill="#000"/>
<rect x="198" y="168" width="1" height="10" fill="#000"/>
<rect x="196" y="171" width="2" height="1" fill="#000"/>
<rect x="199" y="169" width="2" height="1" fill="#000"/>
<rect x="200" y="159" width="1" height="10" fill="#000"/>
<rect x="198" y="168" width="2" height="1" fill="#000"/>
<rect x="201" y="169" width="2" height="1" fill="#000"/>
<rect x="202" y="158" width="1" height="3" fill="#000"/>
<rect x="200" y="159" width="2" height="1" fill="#000"/>
<rect x="203" y="159" width="2" height="1" fill="#000"/>
<rect x="203" y="155" width="1" height="3" fill="#000"/>
<rect x="201" y="155" width="2" height="1" fill="#000"/>
<rect x="204" y="155" width="2" height="1" fill="#000"/>
<rect x="205" y="138" width="1" height="20" fill="#000"/>
<rect x="203" y="144" width="2" height="1" fill="#000"/>
<rect x="206" y="143" width="2" height="1" fill="#000"/>
<rect x="208" y="139" width="1" height="9" fill="#000"/>
<rect x="206" y="146" width="2" height="1" fill="#000"/>
<rect x="209" y="140" width="2" height="1" fill="#000"/>
<rect x="210" y="138" width="1" height="12" fill="#000"/>
<rect x="208" y="138" width="2" height="1" fill="#000"/>
<rect x="211" y="150" width="2" height="1" fill="#000"/>
<rect x="211" y="142" width="1" height="17" fill="#000"/>
<rect x="209" y="151" width="2" height="1" fill="#000"/>
<rect x="212" y="145" width="2" height="1" fill="#000"/>
<rect x="213" y="146" width="1" height="6" fill="#000"/>
<rect x="211" y="149" width="2" height="1" fill="#000"/>
<rect x="214" y="146" width="2" height="1" fill="#000"/>
<rect x="215" y="147" width="1" height="11" fill="#000"/>
<rect x="213" y="153" width="2" height="1" fill="#000"/>
<rect x="216" y="158" width="2" height="1" fill="#000"/>
<rect x="217" y="147" width="1" height="15" fill="#000"/>
<rect x="215" y="160" width="2" height="1" fill="#000"/>
<rect x="218" y="158" width="2" height="1" fill="#000"/>
<rect x="218" y="142" width="1" height="17" fill="#000"/>
<rect x="216" y="147" width="2" height="1" fill="#000"/>
<rect x="219" y="149" width="2" height="1" fill="#000"/>
<rect x="221" y="130" width="1" height="16" fill="#000"/>
<rect x="219" y="133" width="2" height="1" fill="#000"/>
<rect x="222" y="143" width="2" height="1" fill="#000"/>
<rect x="223" y="133" width="1" height="12" fill="#000"/>
<rect x="221" y="139" width="2" height="1" fill="#000"/>
<rect x="224" y="142" width="2" height="1" fill="#000"/>
<rect x="225" y="134" width="1" height="12" fill="#000"/>
<rect x="223" y="137" width="2" height="1" fill="#000"/>
<rect x="226" y="136" width="2" height="1" fill="#000"/>
<rect x="227" y="133" width="1" height="10" fill="#000"/>
<rect x="225" y="141" width="2" height="1" fill="#000"/>
<rect x="228" y="143" width="2" height="1" fill="#000"/>
<rect x="229" y="135" width="1" height="8" fill="#000"/>
<rect x="227" y="142" width="2" height="1" fill="#000"/>
<rect x="230" y="142" width="2" height="1" fill="#000"/>
<rect x="230" y="136" width="1" height="16" fill="#000"/>
<rect x="228" y="149" width="2" height="1" fill="#000"/>
<rect x="231" y="148" width="2" height="1" fill="#000"/>
<rect x="231" y="137" width="1" height="14" fill="#ff0000"/>
<rect x="234" y="142" width="1" height="19" fill="#000"/>
<rect x="232" y="146" width="2" height="1" fill="#000"/>
<rect x="235" y="152" width="2" height="1" fill="#000"/>
<rect x="236" y="145" width="1" height="6" fill="#000"/>
<rect x="234" y="147" width="2" height="1" fill="#000"/>
<rect x="237" y="145" width="2" height="1" fill="#000"/>
<rect x="238" y="149" width="1" height="6" fill="#000"/>
<rect x="236" y="149" width="2" height="1" fill="#000"/>
<rect x="239" y="151" width="2" height="1" fill="#000"/>
<rect x="241" y="151" width="1" height="15" fill="#000"/>
<rect x="239" y="155" width="2" height="1" fill="#000"/>
<rect x="242" y="161" width="2" height="1" fill="#000"/>
<rect x="243" y="139" width="1" height="18" fill="#000"/>
<rect x="241" y="156" width="2" height="1" fill="#000"/>
<rect x="244" y="147" width="2" height="1" fill="#000"/>
<rect x="245" y="141" width="1" height="12" fill="#000"/>
<rect x="243" y="152" width="2" height="1" fill="#000"/>
<rect x="246" y="153" width="2" height="1" fill="#000"/>
<rect x="247" y="138" width="1" height="12" fill="#000"/>
<rect x="245" y="150" width="2" height="1" fill="#000"/>
<rect x="248" y="142" width="2" height="1" fill="#000"/>
<rect x="249" y="135" width="1" height="5" fill="#000"/>
<rect x="247" y="136" width="2" height="1" fill="#000"/>
<rect x="250" y="136" width="2" height="1" fill="#000"/>
<rect x="251" y="133" width="1" height="4" fill="#000"/>
<rect x="249" y="134" width="2" height="1" fill="#000"/>
<rect x="252" y="134" width="2" height="1" fill="#000"/>
<rect x="254" y="131" width="1" height="3" fill="#000"/>
<rect x="252" y="133" width="2" height="1" fill="#000"/>
<rect x="255" y="134" width="2" height="1" fill="#000"/>
<rect x="256" y="129" width="1" height="3" fill="#000"/>
<rect x="254" y="132" width="2" height="1" fill="#000"/>
<rect x="257" y="131" width="2" height="1" fill="#000"/>
<rect x="257" y="129" width="1" height="4" fill="#000"/>
<rect x="255" y="132" width="2" height="1" fill="#000"/>
<rect x="258" y="132" width="2" height="1" fill="#000"/>
<rect x="260" y="132" width="1" height="5" fill="#000"/>
<rect x="258" y="132" width="2" height="1" fill="#000"/>
<rect x="261" y="136" width="2" height="1" fill="#000"/>
<rect x="262" y="133" width="1" height="6" fill="#000"/>
<rect x="260" y="138" width="2" height="1" fill="#000"/>
<rect x="263" y="138" width="2" height="1" fill="#000"/>
<rect x="264" y="133" width="1" height="8" fill="#000"/>
<rect x="262" y="139" width="2" height="1" fill="#000"/>
<rect x="265" y="137" width="2" height="1" fill="#000"/>
<rect x="267" y="136" width="1" height="5" fill="#000"/>
<rect x="265" y="137" width="2" height="1" fill="#000"/>
<rect x="268" y="140" width="2" height="1" fill="#000"/>
<rect x="269" y="137" width="1" height="12" fill="#000"/>
<rect x="267" y="141" width="2" height="1" fill="#000"/>
<rect x="270" y="147" width="2" height="1" fill="#000"/>
<rect x="272" y="143" width="1" height="6" fill="#000"/>
<rect x="270" y="149" width="2" height="1" fill="#000"/>
<rect x="273" y="145" width="2" height="1" fill="#000"/>
<rect x="274" y="147" width="1" height="9" fill="#000"/>
<rect x="272" y="151" width="2" height="1" fill="#000"/>
<rect x="275" y="156" width="2" height="1" fill="#000"/>
<rect x="275" y="160" width="1" height="16" fill="#000"/>
<rect x="273" y="172" width="2" height="1" fill="#000"/>
<rect x="276" y="163" width="2" height="1" fill="#000"/>
<rect x="277" y="161" width="1" height="13" fill="#000"/>
<rect x="275" y="162" width="2" height="1" fill="#000"/>
<rect x="278" y="163" width="2" height="1" fill="#000"/>
<rect x="279" y="162" width="1" height="12" fill="#000"/>
<rect x="277" y="173" width="2" height="1" fill="#000"/>
<rect x="280" y="172" width="2" height="1" fill="#000"/>
<rect x="281" y="156" width="1" height="24" fill="#ff0000"/>
<rect x="283" y="157" width="1" height="5" fill="#000"/>
<rect x="281" y="158" width="2" height="1" fill="#000"/>
<rect x="284" y="161" width="2" height="1" fill="#000"/>
<rect x="285" y="158" width="1" height="8" fill="#000"/>
<rect x="283" y="165" width="2" height="1" fill="#000"/>
<rect x="286" y="163" width="2" height="1" fill="#000"/>
<rect x="287" y="159" width="1" height="5" fill="#000"/>
<rect x="285" y="161" width="2" height="1" fill="#000"/>
<rect x="288" y="162" width="2" height="1" fill="#000"/>
<rect x="290" y="162" width="1" height="8" fill="#000"/>
<rect x="288" y="163" width="2" height="1" fill="#000"/>
<rect x="291" y="163" width="2" height="1" fill="#000"/>
<rect x="292" y="165" width="1" height="12" fill="#000"/>
<rect x="290" y="176" width="2" height="1" fill="#000"/>
<rect x="293" y="173" width="2" height="1" fill="#000"/>
<rect x="294" y="164" width="1" height="13" fill="#000"/>
<rect x="292" y="171" width="2" height="1" fill="#000"/>
<rect x="295" y="176" width="2" height="1" fill="#000"/>
<rect x="296" y="159" width="1" height="9" fill="#000"/>
<rect x="294" y="163" width="2" height="1" fill="#000"/>
<rect x="297" y="167" width="2" height="1" fill="#000"/>
<rect x="297" y="158" width="1" height="5" fill="#000"/>
<rect x="295" y="162" width="2" height="1" fill="#000"/>
<rect x="298" y="159" width="2" height="1" fill="#000"/>
<rect x="299" y="157" width="1" height="6" fill="#000"/>
<rect x="297" y="158" width="2" height="1" fill="#000"/>
<rect x="300" y="159" width="2" height="1" fill="#000"/>
<rect x="301" y="157" width="1" height="4" fill="#000"/>
<rect x="299" y="158" width="2" height="1" fill="#000"/>
<rect x="302" y="160" width="2" height="1" fill="#000"/>
<rect x="303" y="158" width="1" height="8" fill="#000"/>
<rect x="301" y="160" width="2" height="1" fill="#000"/>
<rect x="304" y="161" width="2" height="1" fill="#000"/>
<rect x="305" y="160" width="1" height="5" fill="#000"/>
<rect x="303" y="161" width="2" height="1" fill="#000"/>
<rect x="306" y="165" width="2" height="1" fill="#000"/>
<rect x="307" y="161" width="1" height="4" fill="#000"/>
<rect x="305" y="162" width="2" height="1" fill="#000"/>
<rect x="308" y="163" width="2" height="1" fill="#000"/>
<rect x="309" y="162" width="1" height="4" fill="#000"/>
<rect x="307" y="164" width="2" height="1" fill="#000"/>
<rect x="310" y="166" width="2" height="1" fill="#000"/>
<rect x="311" y="163" width="1" height="6" fill="#000"/>
<rect x="309" y="165" width="2" height="1" fill="#000"/>
<rect x="312" y="168" width="2" height="1" fill="#000"/>
<rect x="313" y="165" width="1" height="5" fill="#000"/>
<rect x="311" y="167" width="2" height="1" fill="#000"/>
<rect x="314" y="168" width="2" height="1" fill="#000"/>
<rect x="316" y="163" width="1" height="4" fill="#000"/>
<rect x="314" y="165" width="2" height="1" fill="#000"/>
<rect x="317" y="163" width="2" height="1" fill="#000"/>
<rect x="318" y="161" width="1" height="4" fill="#000"/>
<rect x="316" y="163" width="2" height="1" fill="#000"/>
<rect x="319" y="162" width="2" height="1" fill="#000"/>
<rect x="321" y="164" width="1" height="3" fill="#000"/>
<rect x="319" y="164" width="2" height="1" fill="#000"/>
<rect x="322" y="167" width="2" height="1" fill="#000"/>
<rect x="323" y="165" width="1" height="3" fill="#000"/>
<rect x="321" y="165" width="2" height="1" fill="#000"/>
<rect x="324" y="166" width="2" height="1" fill="#000"/>
<rect x="325" y="164" width="1" height="6" fill="#000"/>
<rect x="323" y="168" width="2" height="1" fill="#000"/>
<rect x="326" y="167" width="2" height="1" fill="#000"/>
<rect x="327" y="166" width="1" height="7" fill="#000"/>
<rect x="325" y="168" width="2" height="1" fill="#000"/>
<rect x="328" y="169" width="2" height="1" fill="#000"/>
<rect x="329" y="165" width="1" height="6" fill="#000"/>
<rect x="327" y="168" width="2" height="1" fill="#000"/>
<rect x="330" y="170" width="2" height="1" fill="#000"/>
<rect x="331" y="164" width="1" height="11" fill="#000"/>
<rect x="329" y="165" width="2" height="1" fill="#000"/>
<rect x="332" y="170" width="2" height="1" fill="#000"/>
<rect x="333" y="163" width="1" height="4" fill="#000"/>
<rect x="331" y="164" width="2" height="1" fill="#000"/>
<rect x="334" y="164" width="2" height="1" fill="#000"/>
<rect x="336" y="162" width="1" height="3" fill="#000"/>
<rect x="334" y="165" width="2" height="1" fill="#000"/>
<rect x="337" y="164" width="2" height="1" fill="#000"/>
<rect x="338" y="163" width="1" height="2" fill="#000"/>
<rect x="336" y="164" width="2" height="1" fill="#000"/>
<rect x="339" y="165" width="2" height="1" fill="#000"/>
<rect x="340" y="163" width="1" height="2" fill="#000"/>
<rect x="338" y="165" width="2" height="1" fill="#000"/>
<rect x="341" y="164" width="2" height="1" fill="#000"/>
<rect x="342" y="162" width="1" height="2" fill="#000"/>
<rect x="340" y="163" width="2" height="1" fill="#000"/>
<rect x="343" y="163" width="2" height="1" fill="#000"/>
<rect x="344" y="161" width="1" height="4" fill="#000"/>
<rect x="342" y="163" width="2" height="1" fill="#000"/>
<rect x="345" y="164" width="2" height="1" fill="#000"/>
<rect x="346" y="163" width="1" height="2" fill="#000"/>
<rect x="344" y="164" width="2" height="1" fill="#000"/>
<rect x="347" y="164" width="2" height="1" fill="#000"/>
<rect x="348" y="160" width="1" height="3" fill="#000"/>
<rect x="346" y="162" width="2" height="1" fill="#000"/>
<rect x="349" y="163" width="2" height="1" fill="#000"/>
<rect x="350" y="159" width="1" height="3" fill="#000"/>
<rect x="348" y="161" width="2" height="1" fill="#000"/>
<rect x="351" y="162" width="2" height="1" fill="#000"/>
<rect x="352" y="158" width="1" height="3" fill="#000"/>
<rect x="350" y="161" width="2" height="1" fill="#000"/>
<rect x="353" y="159" width="2" height="1" fill="#000"/>
<rect x="354" y="156" width="1" height="4" fill="#000"/>
<rect x="352" y="158" width="2" height="1" fill="#000"/>
<rect x="355" y="160" width="2" height="1" fill="#000"/>
<rect x="356" y="157" width="1" height="4" fill="#000"/>
<rect x="354" y="160" width="2" height="1" fill="#000"/>
<rect x="357" y="157" width="2" height="1" fill="#000"/>
<rect x="358" y="140" width="1" height="20" fill="#000"/>
<rect x="356" y="142" width="2" height="1" fill="#000"/>
<rect x="359" y="149" width="2" height="1" fill="#000"/>
<rect x="360" y="133" width="1" height="11" fill="#000"/>
<rect x="358" y="134" width="2" height="1" fill="#000"/>
<rect x="361" y="136" width="2" height="1" fill="#000"/>
<rect x="362" y="134" width="1" height="5" fill="#000"/>
<rect x="360" y="135" width="2" height="1" fill="#000"/>
<rect x="363" y="137" width="2" height="1" fill="#000"/>
<rect x="363" y="135" width="1" height="5" fill="#000"/>
<rect x="361" y="139" width="2" height="1" fill="#000"/>
<rect x="364" y="139" width="2" height="1" fill="#000"/>
<rect x="365" y="136" width="1" height="4" fill="#000"/>
<rect x="363" y="136" width="2" height="1" fill="#000"/>
<rect x="366" y="139" width="2" height="1" fill="#000"/>
<rect x="368" y="137" width="1" height="5" fill="#000"/>
<rect x="366" y="141" width="2" height="1" fill="#000"/>
<rect x="369" y="138" width="2" height="1" fill="#000"/>
<rect x="370" y="136" width="1" height="4" fill="#000"/>
<rect x="368" y="139" width="2" height="1" fill="#000"/>
<rect x="371" y="139" width="2" height="1" fill="#000"/>
<rect x="372" y="135" width="1" height="4" fill="#000"/>
<rect x="370" y="136" width="2" height="1" fill="#000"/>
<rect x="373" y="139" width="2" height="1" fill="#000"/>
<rect x="374" y="127" width="1" height="6" fill="#000"/>
<rect x="372" y="130" width="2" height="1" fill="#000"/>
<rect x="375" y="130" width="2" height="1" fill="#000"/>
<rect x="375" y="120" width="1" height="8" fill="#000"/>
<rect x="373" y="128" width="2" height="1" fill="#000"/>
<rect x="376" y="127" width="2" height="1" fill="#000"/>
<rect x="376" y="113" width="1" height="9" fill="#000"/>
<rect x="374" y="115" width="2" height="1" fill="#000"/>
<rect x="377" y="117" width="2" height="1" fill="#000"/>
<rect x="377" y="112" width="1" height="6" fill="#000"/>
<rect x="375" y="115" width="2" height="1" fill="#000"/>
<rect x="378" y="114" width="2" height="1" fill="#000"/>
<rect x="379" y="103" width="1" height="13" fill="#000"/>
<rect x="377" y="105" width="2" height="1" fill="#000"/>
<rect x="380" y="107" width="2" height="1" fill="#000"/>
<rect x="381" y="106" width="1" height="4" fill="#000"/>
<rect x="379" y="109" width="2" height="1" fill="#000"/>
<rect x="382" y="106" width="2" height="1" fill="#000"/>
<rect x="383" y="105" width="1" height="11" fill="#000"/>
<rect x="381" y="111" width="2" height="1" fill="#000"/>
<rect x="384" y="110" width="2" height="1" fill="#000"/>
<rect x="384" y="107" width="1" height="6" fill="#000"/>
<rect x="382" y="107" width="2" height="1" fill="#000"/>
<rect x="385" y="109" width="2" height="1" fill="#000"/>
<rect x="386" y="108" width="1" height="4" fill="#000"/>
<rect x="384" y="110" width="2" height="1" fill="#000"/>
<rect x="387" y="110" width="2" height="1" fill="#000"/>
<rect x="388" y="108" width="1" height="5" fill="#000"/>
<rect x="386" y="108" width="2" height="1" fill="#000"/>
<rect x="389" y="113" width="2" height="1" fill="#000"/>
<rect x="391" y="107" width="1" height="3" fill="#000"/>
<rect x="389" y="109" width="2" height="1" fill="#000"/>
<rect x="392" y="110" width="2" height="1" fill="#000"/>
<rect x="393" y="106" width="1" height="3" fill="#000"/>
<rect x="391" y="107" width="2" height="1" fill="#000"/>
<rect x="394" y="107" width="2" height="1" fill="#000"/>
<rect x="396" y="105" width="1" height="3" fill="#000"/>
<rect x="394" y="105" width="2" height="1" fill="#000"/>
<rect x="397" y="107" width="2" height="1" fill="#000"/>
<rect x="398" y="106" width="1" height="3" fill="#000"/>
<rect x="396" y="107" width="2" height="1" fill="#000"/>
<rect x="399" y="106" width="2" height="1" fill="#000"/>
<rect x="400" y="105" width="1" height="6" fill="#000"/>
<rect x="398" y="108" width="2" height="1" fill="#000"/>
<rect x="401" y="110" width="2" height="1" fill="#000"/>
<rect x="402" y="101" width="1" height="4" fill="#000"/>
<rect x="400" y="104" width="2" height="1" fill="#000"/>
<rect x="403" y="102" width="2" height="1" fill="#000"/>
<rect x="403" y="95" width="1" height="8" fill="#000"/>
<rect x="401" y="96" width="2" height="1" fill="#000"/>
<rect x="404" y="103" width="2" height="1" fill="#000"/>
<rect x="405" y="100" width="1" height="6" fill="#000"/>
<rect x="403" y="104" width="2" height="1" fill="#000"/>
<rect x="406" y="104" width="2" height="1" fill="#000"/>
<rect x="407" y="99" width="1" height="9" fill="#000"/>
<rect x="405" y="100" width="2" height="1" fill="#000"/>
<rect x="408" y="100" width="2" height="1" fill="#000"/>
<rect x="408" y="88" width="1" height="8" fill="#000"/>
<rect x="406" y="94" width="2" height="1" fill="#000"/>
<rect x="409" y="92" width="2" height="1" fill="#000"/>
<rect x="411" y="86" width="1" height="13" fill="#000"/>
<rect x="409" y="87" width="2" height="1" fill="#000"/>
<rect x="412" y="98" width="2" height="1" fill="#000"/>
<rect x="413" y="84" width="1" height="14" fill="#000"/>
<rect x="411" y="93" width="2" height="1" fill="#000"/>
<rect x="414" y="95" width="2" height="1" fill="#000"/>
<rect x="416" y="93" width="1" height="11" fill="#000"/>
<rect x="414" y="94" width="2" height="1" fill="#000"/>
<rect x="417" y="103" width="2" height="1" fill="#000"/>
<rect x="417" y="97" width="1" height="11" fill="#000"/>
<rect x="415" y="98" width="2" height="1" fill="#000"/>
<rect x="418" y="106" width="2" height="1" fill="#000"/>
<rect x="420" y="95" width="1" height="21" fill="#000"/>
<rect x="418" y="105" width="2" height="1" fill="#000"/>
<rect x="421" y="102" width="2" height="1" fill="#000"/>
<rect x="421" y="92" width="1" height="6" fill="#000"/>
<rect x="419" y="95" width="2" height="1" fill="#000"/>
<rect x="422" y="97" width="2" height="1" fill="#000"/>
<rect x="424" y="97" width="1" height="23" fill="#000"/>
<rect x="422" y="103" width="2" height="1" fill="#000"/>
<rect x="425" y="100" width="2" height="1" fill="#000"/>
<rect x="426" y="95" width="1" height="13" fill="#000"/>
<rect x="424" y="102" width="2" height="1" fill="#000"/>
<rect x="427" y="98" width="2" height="1" fill="#000"/>
<rect x="428" y="82" width="1" height="16" fill="#000"/>
<rect x="426" y="84" width="2" height="1" fill="#000"/>
<rect x="429" y="85" width="2" height="1" fill="#000"/>
<rect x="430" y="80" width="1" height="20" fill="#000"/>
<rect x="428" y="81" width="2" height="1" fill="#000"/>
<rect x="431" y="84" width="2" height="1" fill="#000"/>
<rect x="432" y="87" width="1" height="14" fill="#000"/>
<rect x="430" y="91" width="2" height="1" fill="#000"/>
<rect x="433" y="91" width="2" height="1" fill="#000"/>
<rect x="434" y="90" width="1" height="11" fill="#000"/>
<rect x="432" y="98" width="2" height="1" fill="#000"/>
<rect x="435" y="93" width="2" height="1" fill="#000"/>
<rect x="435" y="92" width="1" height="37" fill="#ff0000"/>
<rect x="437" y="88" width="1" height="10" fill="#000"/>
<rect x="435" y="93" width="2" height="1" fill="#000"/>
<rect x="438" y="90" width="2" height="1" fill="#000"/>
<rect x="439" y="88" width="1" height="9" fill="#000"/>
<rect x="437" y="91" width="2" height="1" fill="#000"/>
<rect x="440" y="88" width="2" height="1" fill="#000"/>
<rect x="440" y="98" width="1" height="16" fill="#000"/>
<rect x="438" y="102" width="2" height="1" fill="#000"/>
<rect x="441" y="98" width="2" height="1" fill="#000"/>
<rect x="442" y="108" width="1" height="8" fill="#000"/>
<rect x="440" y="114" width="2" height="1" fill="#000"/>
<rect x="443" y="113" width="2" height="1" fill="#000"/>
<rect x="444" y="114" width="1" height="15" fill="#000"/>
<rect x="442" y="116" width="2" height="1" fill="#000"/>
<rect x="445" y="121" width="2" height="1" fill="#000"/>
<rect x="446" y="103" width="1" height="15" fill="#000"/>
<rect x="444" y="117" width="2" height="1" fill="#000"/>
<rect x="447" y="105" width="2" height="1" fill="#000"/>
<rect x="449" y="106" width="1" height="5" fill="#000"/>
<rect x="447" y="110" width="2" height="1" fill="#000"/>
<rect x="450" y="108" width="2" height="1" fill="#000"/>
<rect x="451" y="106" width="1" height="20" fill="#000"/>
<rect x="449" y="116" width="2" height="1" fill="#000"/>
<rect x="452" y="123" width="2" height="1" fill="#000"/>
<rect x="452" y="115" width="1" height="25" fill="#000"/>
<rect x="450" y="125" width="2" height="1" fill="#000"/>
<rect x="453" y="127" width="2" height="1" fill="#000"/>
<rect x="455" y="119" width="1" height="6" fill="#000"/>
<rect x="453" y="123" width="2" height="1" fill="#000"/>
<rect x="456" y="125" width="2" height="1" fill="#000"/>
<rect x="458" y="103" width="1" height="14" fill="#000"/>
<rect x="456" y="108" width="2" height="1" fill="#000"/>
<rect x="459" y="115" width="2" height="1" fill="#000"/>
<rect x="459" y="102" width="1" height="6" fill="#000"/>
<rect x="457" y="106" width="2" height="1" fill="#000"/>
<rect x="460" y="106" width="2" height="1" fill="#000"/>
<rect x="462" y="98" width="1" height="7" fill="#000"/>
<rect x="460" y="101" width="2" height="1" fill="#000"/>
<rect x="463" y="100" width="2" height="1" fill="#000"/>
<rect x="463" y="94" width="1" height="15" fill="#000"/>
<rect x="461" y="95" width="2" height="1" fill="#000"/>
<rect x="464" y="96" width="2" height="1" fill="#000"/>
<rect x="466" y="101" width="1" height="8" fill="#000"/>
<rect x="464" y="102" width="2" height="1" fill="#000"/>
<rect x="467" y="107" width="2" height="1" fill="#000"/>
<rect x="469" y="100" width="1" height="12" fill="#000"/>
<rect x="467" y="103" width="2" height="1" fill="#000"/>
<rect x="470" y="102" width="2" height="1" fill="#000"/>
<rect x="471" y="100" width="1" height="10" fill="#000"/>
<rect x="469" y="100" width="2" height="1" fill="#000"/>
<rect x="472" y="108" width="2" height="1" fill="#000"/>
<rect x="472" y="90" width="1" height="6" fill="#000"/>
<rect x="470" y="95" width="2" height="1" fill="#000"/>
<rect x="473" y="94" width="2" height="1" fill="#000"/>
<rect x="474" y="90" width="1" height="5" fill="#000"/>
<rect x="472" y="92" width="2" height="1" fill="#000"/>
<rect x="475" y="91" width="2" height="1" fill="#000"/>
<rect x="476" y="91" width="1" height="10" fill="#000"/>
<rect x="474" y="94" width="2" height="1" fill="#000"/>
<rect x="477" y="96" width="2" height="1" fill="#000"/>
<rect x="478" y="93" width="1" height="10" fill="#000"/>
<rect x="476" y="95" width="2" height="1" fill="#000"/>
<rect x="479" y="97" width="2" height="1" fill="#000"/>
<rect x="479" y="89" width="1" height="22" fill="#000"/>
<rect x="477" y="95" width="2" height="1" fill="#000"/>
<rect x="480" y="110" width="2" height="1" fill="#000"/>
<rect x="481" y="94" width="1" height="8" fill="#000"/>
<rect x="479" y="101" width="2" height="1" fill="#000"/>
<rect x="482" y="98" width="2" height="1" fill="#000"/>
<rect x="482" y="100" width="1" height="6" fill="#000"/>
<rect x="480" y="101" width="2" height="1" fill="#000"/>
<rect x="483" y="106" width="2" height="1" fill="#000"/>
<rect x="484" y="102" width="1" height="9" fill="#000"/>
<rect x="482" y="105" width="2" height="1" fill="#000"/>
<rect x="485" y="105" width="2" height="1" fill="#000"/>
<rect x="486" y="103" width="1" height="8" fill="#000"/>
<rect x="484" y="103" width="2" height="1" fill="#000"/>
<rect x="487" y="106" width="2" height="1" fill="#000"/>
<rect x="488" y="103" width="1" height="8" fill="#000"/>
<rect x="486" y="107" width="2" height="1" fill="#000"/>
<rect x="489" y="107" width="2" height="1" fill="#000"/>
<rect x="491" y="102" width="1" height="8" fill="#000"/>
<rect x="489" y="103" width="2" height="1" fill="#000"/>
<rect x="492" y="106" width="2" height="1" fill="#000"/>
<rect x="492" y="104" width="1" height="23" fill="#000"/>
<rect x="490" y="105" width="2" height="1" fill="#000"/>
<rect x="493" y="110" width="2" height="1" fill="#000"/>
<rect x="494" y="121" width="1" height="2" fill="#000"/>
<rect x="492" y="121" width="2" height="1" fill="#000"/>
<rect x="495" y="122" width="2" height="1" fill="#000"/>
<rect x="496" y="120" width="1" height="3" fill="#000"/>
<rect x="494" y="120" width="2" height="1" fill="#000"/>
<rect x="497" y="120" width="2" height="1" fill="#000"/>
<rect x="498" y="117" width="1" height="13" fill="#000"/>
<rect x="496" y="121" width="2" height="1" fill="#000"/>
<rect x="499" y="120" width="2" height="1" fill="#000"/>
<rect x="499" y="103" width="1" height="15" fill="#000"/>
<rect x="497" y="112" width="2" height="1" fill="#000"/>
<rect x="500" y="111" width="2" height="1" fill="#000"/>
<rect x="501" y="96" width="1" height="7" fill="#000"/>
<rect x="499" y="101" width="2" height="1" fill="#000"/>
<rect x="502" y="101" width="2" height="1" fill="#000"/>
<rect x="504" y="91" width="1" height="3" fill="#000"/>
<rect x="502" y="93" width="2" height="1" fill="#000"/>
<rect x="505" y="94" width="2" height="1" fill="#000"/>
<rect x="506" y="91" width="1" height="4" fill="#000"/>
<rect x="504" y="92" width="2" height="1" fill="#000"/>
<rect x="507" y="92" width="2" height="1" fill="#000"/>
<rect x="507" y="91" width="1" height="10" fill="#000"/>
<rect x="505" y="101" width="2" height="1" fill="#000"/>
<rect x="508" y="93" width="2" height="1" fill="#000"/>
<rect x="509" y="94" width="1" height="7" fill="#000"/>
<rect x="507" y="99" width="2" height="1" fill="#000"/>
<rect x="510" y="98" width="2" height="1" fill="#000"/>
<rect x="511" y="94" width="1" height="10" fill="#000"/>
<rect x="509" y="94" width="2" height="1" fill="#000"/>
<rect x="512" y="102" width="2" height="1" fill="#000"/>
<rect x="512" y="99" width="1" height="10" fill="#000"/>
<rect x="510" y="108" width="2" height="1" fill="#000"/>
<rect x="513" y="105" width="2" height="1" fill="#000"/>
<rect x="514" y="107" width="1" height="8" fill="#000"/>
<rect x="512" y="113" width="2" height="1" fill="#000"/>
<rect x="515" y="114" width="2" height="1" fill="#000"/>
<rect x="517" y="110" width="1" height="5" fill="#000"/>
<rect x="515" y="111" width="2" height="1" fill="#000"/>
<rect x="518" y="113" width="2" height="1" fill="#000"/>
<rect x="518" y="109" width="1" height="7" fill="#000"/>
<rect x="516" y="113" width="2" height="1" fill="#000"/>
<rect x="519" y="115" width="2" height="1" fill="#000"/>
<rect x="520" y="108" width="1" height="14" fill="#000"/>
<rect x="518" y="119" width="2" height="1" fill="#000"/>
<rect x="521" y="119" width="2" height="1" fill="#000"/>
<rect x="522" y="96" width="1" height="12" fill="#000"/>
<rect x="520" y="103" width="2" height="1" fill="#000"/>
<rect x="523" y="107" width="2" height="1" fill="#000"/>
<rect x="524" y="97" width="1" height="6" fill="#000"/>
<rect x="522" y="101" width="2" height="1" fill="#000"/>
<rect x="525" y="101" width="2" height="1" fill="#000"/>
<rect x="526" y="97" width="1" height="6" fill="#000"/>
<rect x="524" y="99" width="2" height="1" fill="#000"/>
<rect x="527" y="97" width="2" height="1" fill="#000"/>
<rect x="528" y="102" width="1" height="12" fill="#000"/>
<rect x="526" y="103" width="2" height="1" fill="#000"/>
<rect x="529" y="106" width="2" height="1" fill="#000"/>
<rect x="530" y="110" width="1" height="6" fill="#000"/>
<rect x="528" y="110" width="2" height="1" fill="#000"/>
<rect x="531" y="115" width="2" height="1" fill="#000"/>
<rect x="532" y="107" width="1" height="6" fill="#000"/>
<rect x="530" y="110" width="2" height="1" fill="#000"/>
<rect x="533" y="111" width="2" height="1" fill="#000"/>
<rect x="534" y="111" width="1" height="7" fill="#000"/>
<rect x="532" y="115" width="2" height="1" fill="#000"/>
<rect x="535" y="115" width="2" height="1" fill="#000"/>
<rect x="535" y="116" width="1" height="8" fill="#000"/>
<rect x="533" y="120" width="2" height="1" fill="#000"/>
<rect x="536" y="117" width="2" height="1" fill="#000"/>
<rect x="537" y="123" width="1" height="5" fill="#000"/>
<rect x="535" y="127" width="2" height="1" fill="#000"/>
<rect x="538" y="127" width="2" height="1" fill="#000"/>
<rect x="538" y="124" width="1" height="6" fill="#000"/>
<rect x="536" y="127" width="2" height="1" fill="#000"/>
<rect x="539" y="127" width="2" height="1" fill="#000"/>
<rect x="540" y="122" width="1" height="16" fill="#000"/>
<rect x="538" y="133" width="2" height="1" fill="#000"/>
<rect x="541" y="124" width="2" height="1" fill="#000"/>
<rect x="541" y="124" width="1" height="6" fill="#000"/>
<rect x="539" y="128" width="2" height="1" fill="#000"/>
<rect x="542" y="126" width="2" height="1" fill="#000"/>
<rect x="542" y="118" width="1" height="10" fill="#000"/>
<rect x="540" y="119" width="2" height="1" fill="#000"/>
<rect x="543" y="121" width="2" height="1" fill="#000"/>
<rect x="544" y="122" width="1" height="11" fill="#000"/>
<rect x="542" y="130" width="2" height="1" fill="#000"/>
<rect x="545" y="125" width="2" height="1" fill="#000"/>
<rect x="545" y="116" width="1" height="8" fill="#000"/>
<rect x="543" y="122" width="2" height="1" fill="#000"/>
<rect x="546" y="124" width="2" height="1" fill="#000"/>
<rect x="546" y="114" width="1" height="4" fill="#000"/>
<rect x="544" y="115" width="2" height="1" fill="#000"/>
<rect x="547" y="115" width="2" height="1" fill="#000"/>
<rect x="548" y="111" width="1" height="4" fill="#000"/>
<rect x="546" y="113" width="2" height="1" fill="#000"/>
<rect x="549" y="114" width="2" height="1" fill="#000"/>
<rect x="550" y="114" width="1" height="6" fill="#000"/>
<rect x="548" y="118" width="2" height="1" fill="#000"/>
<rect x="551" y="118" width="2" height="1" fill="#000"/>
<rect x="551" y="115" width="1" height="6" fill="#000"/>
<rect x="549" y="119" width="2" height="1" fill="#000"/>
<rect x="552" y="115" width="2" height="1" fill="#000"/>
<rect x="552" y="116" width="1" height="18" fill="#000"/>
<rect x="550" y="119" width="2" height="1" fill="#000"/>
<rect x="553" y="120" width="2" height="1" fill="#000"/>
<rect x="554" y="118" width="1" height="11" fill="#ff0000"/>
<rect x="556" y="117" width="1" height="38" fill="#000"/>
<rect x="554" y="145" width="2" height="1" fill="#000"/>
<rect x="557" y="129" width="2" height="1" fill="#000"/>
<rect x="559" y="112" width="1" height="44" fill="#ff0000"/>
<rect x="561" y="99" width="1" height="19" fill="#000"/>
<rect x="559" y="110" width="2" height="1" fill="#000"/>
<rect x="562" y="99" width="2" height="1" fill="#000"/>
<rect x="563" y="98" width="1" height="5" fill="#000"/>
<rect x="561" y="99" width="2" height="1" fill="#000"/>
<rect x="564" y="100" width="2" height="1" fill="#000"/>
<rect x="566" y="96" width="1" height="5" fill="#000"/>
<rect x="564" y="100" width="2" height="1" fill="#000"/>
<rect x="567" y="100" width="2" height="1" fill="#000"/>
<rect x="568" y="84" width="1" height="14" fill="#ff0000"/>
<rect x="570" y="87" width="1" height="6" fill="#000"/>
<rect x="568" y="91" width="2" height="1" fill="#000"/>
<rect x="571" y="89" width="2" height="1" fill="#000"/>
<rect x="572" y="84" width="1" height="7" fill="#000"/>
<rect x="570" y="88" width="2" height="1" fill="#000"/>
<rect x="573" y="87" width="2" height="1" fill="#000"/>
<rect x="575" y="82" width="1" height="7" fill="#000"/>
<rect x="573" y="85" width="2" height="1" fill="#000"/>
<rect x="576" y="83" width="2" height="1" fill="#000"/>
<rect x="577" y="81" width="1" height="5" fill="#000"/>
<rect x="575" y="86" width="2" height="1" fill="#000"/>
<rect x="578" y="82" width="2" height="1" fill="#000"/>
<rect x="580" y="83" width="1" height="33" fill="#000"/>
<rect x="578" y="115" width="2" height="1" fill="#000"/>
<rect x="581" y="114" width="2" height="1" fill="#000"/>
<rect x="582" y="83" width="1" height="7" fill="#000"/>
<rect x="580" y="83" width="2" height="1" fill="#000"/>
<rect x="583" y="86" width="2" height="1" fill="#000"/>
<rect x="584" y="84" width="1" height="7" fill="#000"/>
<rect x="582" y="89" width="2" height="1" fill="#000"/>
<rect x="585" y="90" width="2" height="1" fill="#000"/>
<rect x="586" y="85" width="1" height="8" fill="#000"/>
<rect x="584" y="89" width="2" height="1" fill="#000"/>
<rect x="587" y="87" width="2" height="1" fill="#000"/>
<rect x="588" y="88" width="1" height="9" fill="#000"/>
<rect x="586" y="90" width="2" height="1" fill="#000"/>
<rect x="589" y="96" width="2" height="1" fill="#000"/>
<rect x="590" y="84" width="1" height="9" fill="#000"/>
<rect x="588" y="86" width="2" height="1" fill="#000"/>
<rect x="591" y="89" width="2" height="1" fill="#000"/>
<rect x="592" y="84" width="1" height="4" fill="#000"/>
<rect x="590" y="84" width="2" height="1" fill="#000"/>
<rect x="593" y="86" width="2" height="1" fill="#000"/>
<polyline points="182.0,198.3 200.0,191.0 214.0,184.0 220.0,181.8 228.0,179.5 240.0,174.0 250.0,168.8 265.0,162.5 275.0,157.5 280.0,155.0 300.0,154.3 320.0,154.0 340.0,154.0 355.0,154.3 360.0,154.0 375.0,153.5 390.0,151.0 400.0,147.8 410.0,146.0 420.0,141.5 430.0,137.0 440.0,132.5 450.0,129.0 460.0,125.5 470.0,121.0 480.0,115.5 490.0,110.5 500.0,107.5 510.0,105.2 520.0,104.0 530.0,104.0 540.0,105.0 550.0,106.7 560.0,107.5 575.0,107.5 585.0,105.8 592.0,104.2" fill="none" stroke="#800080" stroke-width="2.3" stroke-linejoin="round"/>
<rect x="419" y="78" width="106" height="1.1" fill="#000"/><rect x="525" y="77" width="106.5" height="1.1" fill="#000"/>
<line x1="592.5" y1="45" x2="592.5" y2="70" stroke="#ff0000" stroke-width="1.3"/>
<polyline points="85.0,303.3 105.0,293.3 110.0,290.0 135.0,289.0 150.0,285.0 165.0,280.0 180.0,273.3 195.0,269.2 210.0,264.2 225.0,261.3 235.0,258.0 250.0,256.7 262.0,254.7 270.0,255.3 280.0,257.3 290.0,261.3 300.0,266.7 310.0,272.0 318.0,274.7 325.0,275.3 335.0,275.3 346.0,272.5 355.6,270.0 365.0,264.5 380.0,256.0 395.0,247.0 410.0,239.4 420.0,235.8 425.0,232.6 435.0,229.0 445.0,227.1 460.0,223.4 475.0,221.6 490.0,222.5 505.0,222.5 520.0,227.1 535.0,232.6 550.0,238.1 560.0,240.9 570.0,239.0 580.0,235.4 592.0,227.1" fill="none" stroke="#ff0000" stroke-width="1" stroke-linejoin="round" stroke-dasharray="1 2"/>
<polyline points="88.0,312.5 110.0,311.0 135.0,310.8 150.0,308.3 170.0,305.8 190.0,304.2 210.0,301.7 225.0,301.3 260.0,298.7 290.0,298.7 325.0,298.7 350.0,297.2 373.8,294.8 400.0,291.0 412.0,288.4 435.0,285.8 470.0,284.4 500.0,283.1 540.0,283.1 560.0,282.2 580.0,280.3 592.0,278.5" fill="none" stroke="#000" stroke-width="1" stroke-linejoin="round" stroke-dasharray="1 2"/>
<polyline points="150.0,355.0 160.0,352.3 170.0,347.0 180.0,343.7 190.0,341.0 205.0,337.0 220.0,335.0 235.0,333.7 250.0,333.0 262.0,331.7 270.0,332.0 280.0,333.7 295.0,336.3 305.0,339.0 315.0,341.7 330.0,343.0 345.0,343.7 360.0,343.3 375.0,340.7 390.0,335.3 405.0,330.7 420.0,326.7 430.0,323.3 440.0,321.3 455.0,321.3 470.0,321.0 490.0,321.0 505.0,321.7 520.0,323.0 530.0,324.0 545.0,325.5 556.0,330.0 570.0,330.7 580.0,329.2 592.0,327.0" fill="none" stroke="#ff0000" stroke-width="1" stroke-linejoin="round" stroke-dasharray="1 2"/>
<polyline points="40.0,312.5 47.0,310.8 53.0,312.5 58.0,315.8 62.0,313.3 67.0,310.8 73.0,310.0 77.0,310.8 80.0,313.3 85.0,312.5 90.0,311.7 95.0,307.5 100.0,310.0 105.0,311.7 115.0,311.7 125.0,310.8 130.0,311.7 135.0,310.8 140.0,305.8 145.0,303.3 150.0,302.5 155.0,304.2 158.0,305.8 162.0,303.3 167.0,302.5 175.0,304.2 185.0,305.8 190.0,304.2 200.0,302.5 205.0,300.8 215.0,300.0 220.0,299.2 225.0,298.7 232.0,299.3 238.0,300.7 243.0,298.7 250.0,296.7 256.0,295.3 262.0,296.7 265.0,296.0 270.0,297.3 275.0,298.7 280.0,299.3 290.0,300.7 300.0,299.3 310.0,298.7 315.0,297.3 325.0,296.7 340.0,297.2 350.0,296.3 360.0,294.5 368.0,294.5 375.0,292.7 380.0,289.9 390.0,289.0 400.0,287.2 408.0,286.2 410.0,284.8 413.0,286.2 421.0,286.6 425.4,287.5 428.0,284.9 433.3,285.8 436.8,283.7 443.8,284.9 452.6,284.4 461.3,282.6 475.0,282.8 490.0,283.1 500.0,281.6 505.0,282.2 515.0,284.0 530.0,283.1 545.0,283.1 550.0,284.0 555.0,284.9 560.0,283.1 565.0,279.4 570.0,277.6 575.0,275.7 580.0,275.7 585.0,276.7 590.0,275.7 592.0,268.4" fill="none" stroke="#ff00ff" stroke-width="2.2" stroke-linejoin="round"/>
<polyline points="40.0,306.7 45.0,302.5 50.0,301.7 52.0,303.3 55.0,310.0 57.0,316.7 59.0,324.0 62.0,318.3 65.0,310.0 67.0,303.3 70.0,301.7 73.0,295.0 77.0,292.5 80.0,295.0 83.0,289.0 87.0,285.8 90.0,289.0 93.0,284.0 96.0,280.8 100.0,284.0 103.0,287.5 106.0,295.0 110.0,295.8 113.0,288.3 116.0,293.3 119.0,293.3 122.0,295.0 125.0,286.7 128.0,290.0 131.0,295.0 135.0,295.0 136.5,294.0 137.5,266.2 140.0,265.6 143.7,270.6 146.9,266.9 150.0,275.6 153.7,270.6 156.9,282.5 159.4,276.2 163.1,265.0 167.5,266.9 171.2,266.2 177.5,269.4 182.5,275.6 188.7,262.5 191.9,263.1 195.0,269.4 197.5,268.1 200.6,259.4 205.0,247.5 208.7,250.0 211.2,261.2 216.2,264.4 220.0,250.0 224.4,248.7 228.7,260.6 231.9,254.4 235.0,256.9 238.0,258.7 241.0,263.3 242.0,265.3 245.0,260.0 248.0,254.7 251.0,250.7 254.0,248.0 257.0,248.0 259.0,250.0 262.0,250.0 265.0,254.7 268.0,260.0 270.0,262.7 273.0,270.7 275.0,263.3 277.0,266.7 280.0,268.7 282.0,274.7 285.0,276.0 288.0,276.0 290.0,284.0 292.0,280.7 295.0,274.7 298.0,274.0 300.0,276.7 303.0,275.3 306.0,277.3 309.0,276.7 312.0,279.3 315.0,274.0 318.0,272.0 321.0,271.3 323.0,273.3 325.0,275.3 328.0,275.2 330.0,268.8 335.0,267.9 340.0,267.0 344.0,266.0 348.0,265.1 352.0,264.6 355.0,267.9 358.0,256.9 362.0,252.3 365.0,250.5 368.0,252.3 370.0,255.0 372.0,256.0 375.0,245.0 378.0,239.4 380.0,236.7 383.0,238.5 387.0,237.6 392.0,235.8 397.0,237.6 402.0,237.6 405.0,236.7 408.0,233.0 410.0,230.3 413.0,234.0 416.0,235.8 418.0,234.4 421.0,229.0 424.0,222.5 426.0,214.3 428.0,206.9 430.0,209.7 433.0,222.5 435.0,217.0 437.0,213.3 438.0,220.7 440.0,225.3 442.0,232.6 445.0,229.9 447.0,220.7 450.0,236.8 455.0,230.8 458.0,222.5 461.0,218.0 464.0,218.9 467.0,223.4 469.0,216.1 471.0,212.4 474.0,211.5 476.0,213.3 478.0,217.0 481.0,218.9 484.0,224.4 487.0,228.0 490.0,228.9 492.0,236.3 494.0,240.9 497.0,241.8 499.0,233.5 501.0,225.3 504.0,218.9 507.0,218.9 510.0,222.5 513.0,228.0 516.0,231.7 519.0,232.6 521.0,230.8 524.0,233.5 527.0,239.0 530.0,240.0 533.0,240.9 535.0,248.2 538.0,253.7 541.0,251.9 544.0,244.5 547.0,238.1 549.0,235.4 551.0,239.0 552.0,247.3 554.0,241.8 556.0,247.3 557.0,262.9 559.0,257.4 560.0,242.7 561.0,228.9 564.0,227.1 567.0,218.9 569.0,222.5 572.0,219.8 575.0,218.9 578.0,217.0 581.0,217.9 584.0,219.8 587.0,221.6 589.0,218.9 591.0,212.4 592.0,210.6" fill="none" stroke="#0000ff" stroke-width="2.6" stroke-linejoin="round"/>
<polyline points="40.6,365.6 44.0,363.4 47.7,362.6 50.4,363.4 53.0,366.7 56.0,370.5 58.2,372.7 60.5,370.9 63.5,366.0 66.5,361.5 68.7,359.6 71.7,358.9 74.0,357.4 76.2,355.9 78.5,357.0 80.7,358.1 83.0,354.7 85.2,352.9 88.2,353.6 90.5,354.0 93.5,352.7 96.0,352.4 100.0,354.5 103.0,356.5 106.0,359.5 109.0,360.5 114.0,358.0 120.0,359.0 123.0,358.0 126.0,359.0 130.0,358.0 134.0,359.5 137.0,358.5 137.5,345.0 140.0,345.0 145.0,344.0 148.0,347.0 151.0,345.5 154.0,346.0 156.0,348.5 159.0,346.0 162.0,341.4 165.0,340.5 168.0,341.0 172.0,340.3 175.0,339.7 178.0,339.0 181.0,341.0 183.0,342.3 186.0,339.7 189.0,336.3 192.0,335.7 195.0,336.3 198.0,337.0 200.0,333.7 203.0,331.0 205.0,329.0 208.0,330.3 211.0,332.3 213.0,334.3 216.0,333.7 218.0,331.7 220.0,329.7 223.0,331.7 226.0,331.0 229.0,332.3 232.0,330.3 235.0,331.0 238.0,333.0 241.0,335.0 243.0,337.7 246.0,335.7 249.0,333.0 252.0,330.3 255.0,327.7 258.0,327.0 261.0,328.3 264.0,329.7 267.0,332.3 270.0,335.7 274.0,339.7 277.0,341.7 280.0,339.7 283.0,342.3 286.0,341.7 290.0,342.3 292.0,345.0 295.0,342.3 300.0,341.7 305.0,343.0 310.0,343.7 315.0,344.3 320.0,343.7 325.0,345.0 330.0,343.7 335.0,343.0 340.0,342.3 345.0,343.0 350.0,343.7 355.0,342.3 357.0,338.3 360.0,337.2 365.0,337.3 370.0,338.7 372.0,338.0 374.0,333.3 377.0,329.3 380.0,328.7 383.0,328.0 387.0,327.3 392.0,327.6 397.0,326.7 400.0,324.7 404.0,323.3 407.0,322.7 410.0,321.3 413.0,322.7 417.0,323.3 420.0,319.3 424.0,320.0 427.0,318.7 428.0,315.3 431.0,318.0 434.0,320.7 437.0,318.7 440.0,322.7 443.0,323.3 446.0,320.0 449.0,322.7 452.0,324.0 455.0,322.0 458.0,319.0 461.0,317.7 464.0,319.7 467.0,319.7 469.0,321.7 471.0,318.3 474.0,317.0 478.0,317.7 482.0,318.3 484.0,321.0 487.0,323.7 490.0,322.3 492.0,327.7 495.0,329.0 498.0,327.7 500.0,321.7 503.0,319.7 506.0,318.3 509.0,319.0 512.0,321.7 515.0,323.0 520.0,323.7 527.0,323.7 528.0,327.0 531.0,327.0 534.0,329.0 537.0,333.0 540.0,333.7 542.0,333.0 545.0,330.3 548.0,331.0 551.0,334.0 554.0,336.0 556.0,343.5 557.0,339.7 559.0,332.2 561.0,328.5 565.0,326.2 569.0,324.7 573.0,324.0 578.0,321.7 583.0,324.0 587.0,325.5 590.0,323.2 591.0,316.5 592.0,315.0" fill="none" stroke="#000" stroke-width="2.4" stroke-linejoin="round"/>
<path d="M101.0,173 L101.0,178.5 L98.5,178.5 L102.5,182.5 L106.5,178.5 L104.0,178.5 L104.0,173 Z" fill="#ff0000"/>
<path d="M139.5,135 L139.5,143 M142.5,135 L142.5,143 M137,139 L141,143 L145,139" stroke="#ff0000" fill="none" stroke-width="1.2"/>
<path d="M428.5,63.3 L428.5,67.7 L426,67.7 L430,71.7 L434,67.7 L431.5,67.7 L431.5,63.3 Z" fill="#ff0000"/>
<path d="M475.5,71.7 L475.5,75 L473,75 L477,79 L481,75 L478.5,75 L478.5,71.7 Z" fill="#ff0000"/>
<path d="M112.5,238 L112.5,230.5 L110,230.5 L114,226.5 L118,230.5 L115.5,230.5 L115.5,238 Z" fill="#ff0000"/>
<path d="M278.5,198 L278.5,190 L276,190 L280,186 L284,190 L281.5,190 L281.5,198 Z" fill="#ff0000"/>
<path d="M539.5,155.8 L539.5,148 L537,148 L541,144 L545,148 L542.5,148 L542.5,155.8 Z" fill="#ff0000"/>
<path d="M451.2,146.7 L451.2,157.3 M454.2,146.7 L454.2,157.3 M448.7,150.7 L452.7,146.7 L456.7,150.7" stroke="#ff0000" fill="none" stroke-width="1.2"/>
<path d="M205.6,232 L205.6,217.3 M200.6,223.3 L205.6,217.3 L210.6,223.3" stroke="#ff0000" fill="none" stroke-width="1.2"/>
<path d="M218.5,230.6 L218.5,217.5 M213.5,223.5 L218.5,217.5 L223.5,223.5" stroke="#0000ff" fill="none" stroke-width="1.2"/>
<path d="M256.25,223.75 L256.25,211.25 M251.25,217.25 L256.25,211.25 L261.25,217.25" stroke="#ff0000" fill="none" stroke-width="1.2"/>
<path d="M373,212 L373,198.7 M368,204.7 L373,198.7 L378,204.7" stroke="#ff0000" fill="none" stroke-width="1.2"/>
<path d="M428.4,176.7 L428.4,163.7 M423.4,169.7 L428.4,163.7 L433.4,169.7" stroke="#ff0000" fill="none" stroke-width="1.2"/>
<path d="M567,205 L567,190.8 M562,196.8 L567,190.8 L572,196.8" stroke="#ff0000" fill="none" stroke-width="1.2"/>
<path d="M592,163 L592,149 M587,155 L592,149 L597,155" stroke="#ff0000" fill="none" stroke-width="1.2"/>
<text x="210.6" y="234.4" font-size="12">B5</text>
<text x="224" y="234.4" font-size="12">B26</text>
<text x="262" y="227.5" font-size="12">B5</text>
<text x="378.7" y="214" font-size="12">B5</text>
<text x="434.7" y="179.3" font-size="12">B5</text>
<text x="574" y="207.5" font-size="12">B5</text>
<text x="597.5" y="166.7" font-size="12">B5</text>
<line x1="39.5" y1="406" x2="39.5" y2="423" stroke="#9a9a30" stroke-width="1.3"/>
<text x="7" y="11" font-size="12" fill="#000" textLength="532" lengthAdjust="spacing">(Red arrows)#1 Indicator=20-d St-KLine goes back above 20/below 80.. Its gain= 107.1% Buy</text>
<text x="2" y="26" font-size="12" fill="#000">UFI</text>
<text x="85" y="26" font-size="12" fill="#000" textLength="57" lengthAdjust="spacing">UNIFI INC</text>
<text x="168.5" y="26" font-size="12" fill="#000" textLength="156" lengthAdjust="spacing">(C) 2012 www.tigersoft.com</text>
<text x="342" y="26" font-size="12" fill="#000" textLength="246" lengthAdjust="spacing">Close=  14.94  Change= .92 Volume= 2785</text>
<text x="43.5" y="41" font-size="12" fill="#000" textLength="120.5" lengthAdjust="spacing">2/ 21/ 12- 2/ 19/ 13</text>
<text x="5" y="61.5" font-size="12.5" fill="#000">15</text>
<text x="5" y="88.5" font-size="12.5" fill="#000">14</text>
<text x="5" y="115.5" font-size="12.5" fill="#000">13</text>
<text x="5" y="142.5" font-size="12.5" fill="#000">12</text>
<text x="5" y="169.5" font-size="12.5" fill="#000">11</text>
<text x="5" y="196.5" font-size="12.5" fill="#000">10</text>
<text x="5" y="223.5" font-size="12.5" fill="#000">9</text>
<text x="5" y="250.5" font-size="12.5" fill="#000">8</text>
<text x="5" y="277.5" font-size="12.5" fill="#000">7</text>
<text x="642.5" y="130" font-size="12" fill="#000" textLength="138" lengthAdjust="spacing">BULLISH PRICE TREND</text>
<text x="664.5" y="142" font-size="12" fill="#000" textLength="91" lengthAdjust="spacing">65d-PR%= 100%</text>
<text x="642.5" y="159" font-size="12" fill="#000" textLength="87.5" lengthAdjust="spacing">Public is bullish</text>
<text x="664.5" y="172" font-size="12" fill="#000" textLength="91" lengthAdjust="spacing">65d-OP%= 100%</text>
<text x="642.5" y="189" font-size="12" fill="#000" textLength="136.5" lengthAdjust="spacing">Professionals are bullish</text>
<text x="664.5" y="202" font-size="12" fill="#000" textLength="94.5" lengthAdjust="spacing">65d-CP%= 98.5%</text>
<text x="642.5" y="222.5" font-size="12" fill="#000" textLength="100.5" lengthAdjust="spacing">CP%vsPr%= -1.5%</text>
<text x="642.5" y="244" font-size="12" fill="#000" textLength="143.5" lengthAdjust="spacing">Strength Profess/Pub= .4</text>
<text x="642.5" y="273" font-size="12" fill="#000" textLength="143" lengthAdjust="spacing">CLOSING POWER (blue):</text>
<text x="642.5" y="286" font-size="12" fill="#000" textLength="36.5" lengthAdjust="spacing">Bullish</text>
<text x="642.5" y="307" font-size="12" fill="#000" textLength="87.5" lengthAdjust="spacing">OBV (magenta):</text>
<text x="642.5" y="320" font-size="12" fill="#000" textLength="36.5" lengthAdjust="spacing">Bullish</text>
<text x="642.5" y="339" font-size="12" fill="#000" textLength="148.5" lengthAdjust="spacing">REL.STR..VS DJI (brown):</text>
<text x="642.5" y="352" font-size="12" fill="#000" textLength="36.5" lengthAdjust="spacing">Bullish</text>
<text x="642.5" y="392" font-size="12" fill="#000" textLength="161" lengthAdjust="spacing">Bullish: Accumulation Rising</text>
<text x="664" y="402.6" font-size="12" fill="#000" textLength="51.5" lengthAdjust="spacing">IP=  .278</text>
<text x="63" y="326.5" font-size="12" fill="#000">.50</text>
<text x="1.5" y="344.7" font-size="12" fill="#000" textLength="79.5" lengthAdjust="spacing">Insider Buying</text>
<text x="1.5" y="358.5" font-size="12" fill="#000">Accum</text>
<text x="56" y="355.5" font-size="12" fill="#000">+.25</text>
<text x="1.5" y="370.5" font-size="12" fill="#000">Index</text>
<text x="1.5" y="383.7" font-size="12" fill="#000" textLength="69.5" lengthAdjust="spacing">AI= 190/200</text>
<text x="56" y="414.5" font-size="12" fill="#000">-.25</text>
<text x="68" y="422" font-size="12" fill="#000">Mar</text>
<text x="116" y="422" font-size="12" fill="#000">Apr</text>
<text x="161" y="422" font-size="12" fill="#000">May</text>
<text x="207" y="422" font-size="12" fill="#000">Jun</text>
<text x="256" y="422" font-size="12" fill="#000">Jul</text>
<text x="302" y="422" font-size="12" fill="#000">Aug</text>
<text x="352" y="422" font-size="12" fill="#000">Sep</text>
<text x="395" y="422" font-size="12" fill="#000">Oct</text>
<text x="442" y="422" font-size="12" fill="#000">Nov</text>
<text x="489" y="422" font-size="12" fill="#000">Dec</text>
<text x="531" y="422" font-size="12" fill="#000">Jan</text>
<text x="579" y="422" font-size="12" fill="#000">Feb</text>
<text x="7" y="434" font-size="12" fill="#000" textLength="729" lengthAdjust="spacing">For Last 65 days stock changed  14.1% or  1.66 points:  Public accounts for  1.22 points.;  Professionals account for  .44 points.</text>
<text x="7" y="446.5" font-size="12" fill="#000" textLength="708" lengthAdjust="spacing">For Last year stock changed  71.8% or  6.27 points:  Public accounts for  1.4 points.;  Professionals account for  4.87 points.</text>
<text x="5.5" y="459" font-size="12" fill="#000" textLength="528" lengthAdjust="spacing">(Blue arrows)#2 Indicator=14-d St-KLine goes back above 20/below 80.. Its gain= 52.8% Buy</text>
<text x="5.5" y="471.5" font-size="12" fill="#000" textLength="393.5" lengthAdjust="spacing">(Green arrows)#3 Indicator=21-day IPA ma turns. Its gain= 40.4% Buy</text>
<text x="2.5" y="484.5" font-size="12" fill="#000" textLength="547" lengthAdjust="spacing">(Magenta arrows)#4 Indicator=14-d St-PctD goes back above 20/below 80.. Its gain= 40.3% Buy</text>
</svg>
</body></html>
